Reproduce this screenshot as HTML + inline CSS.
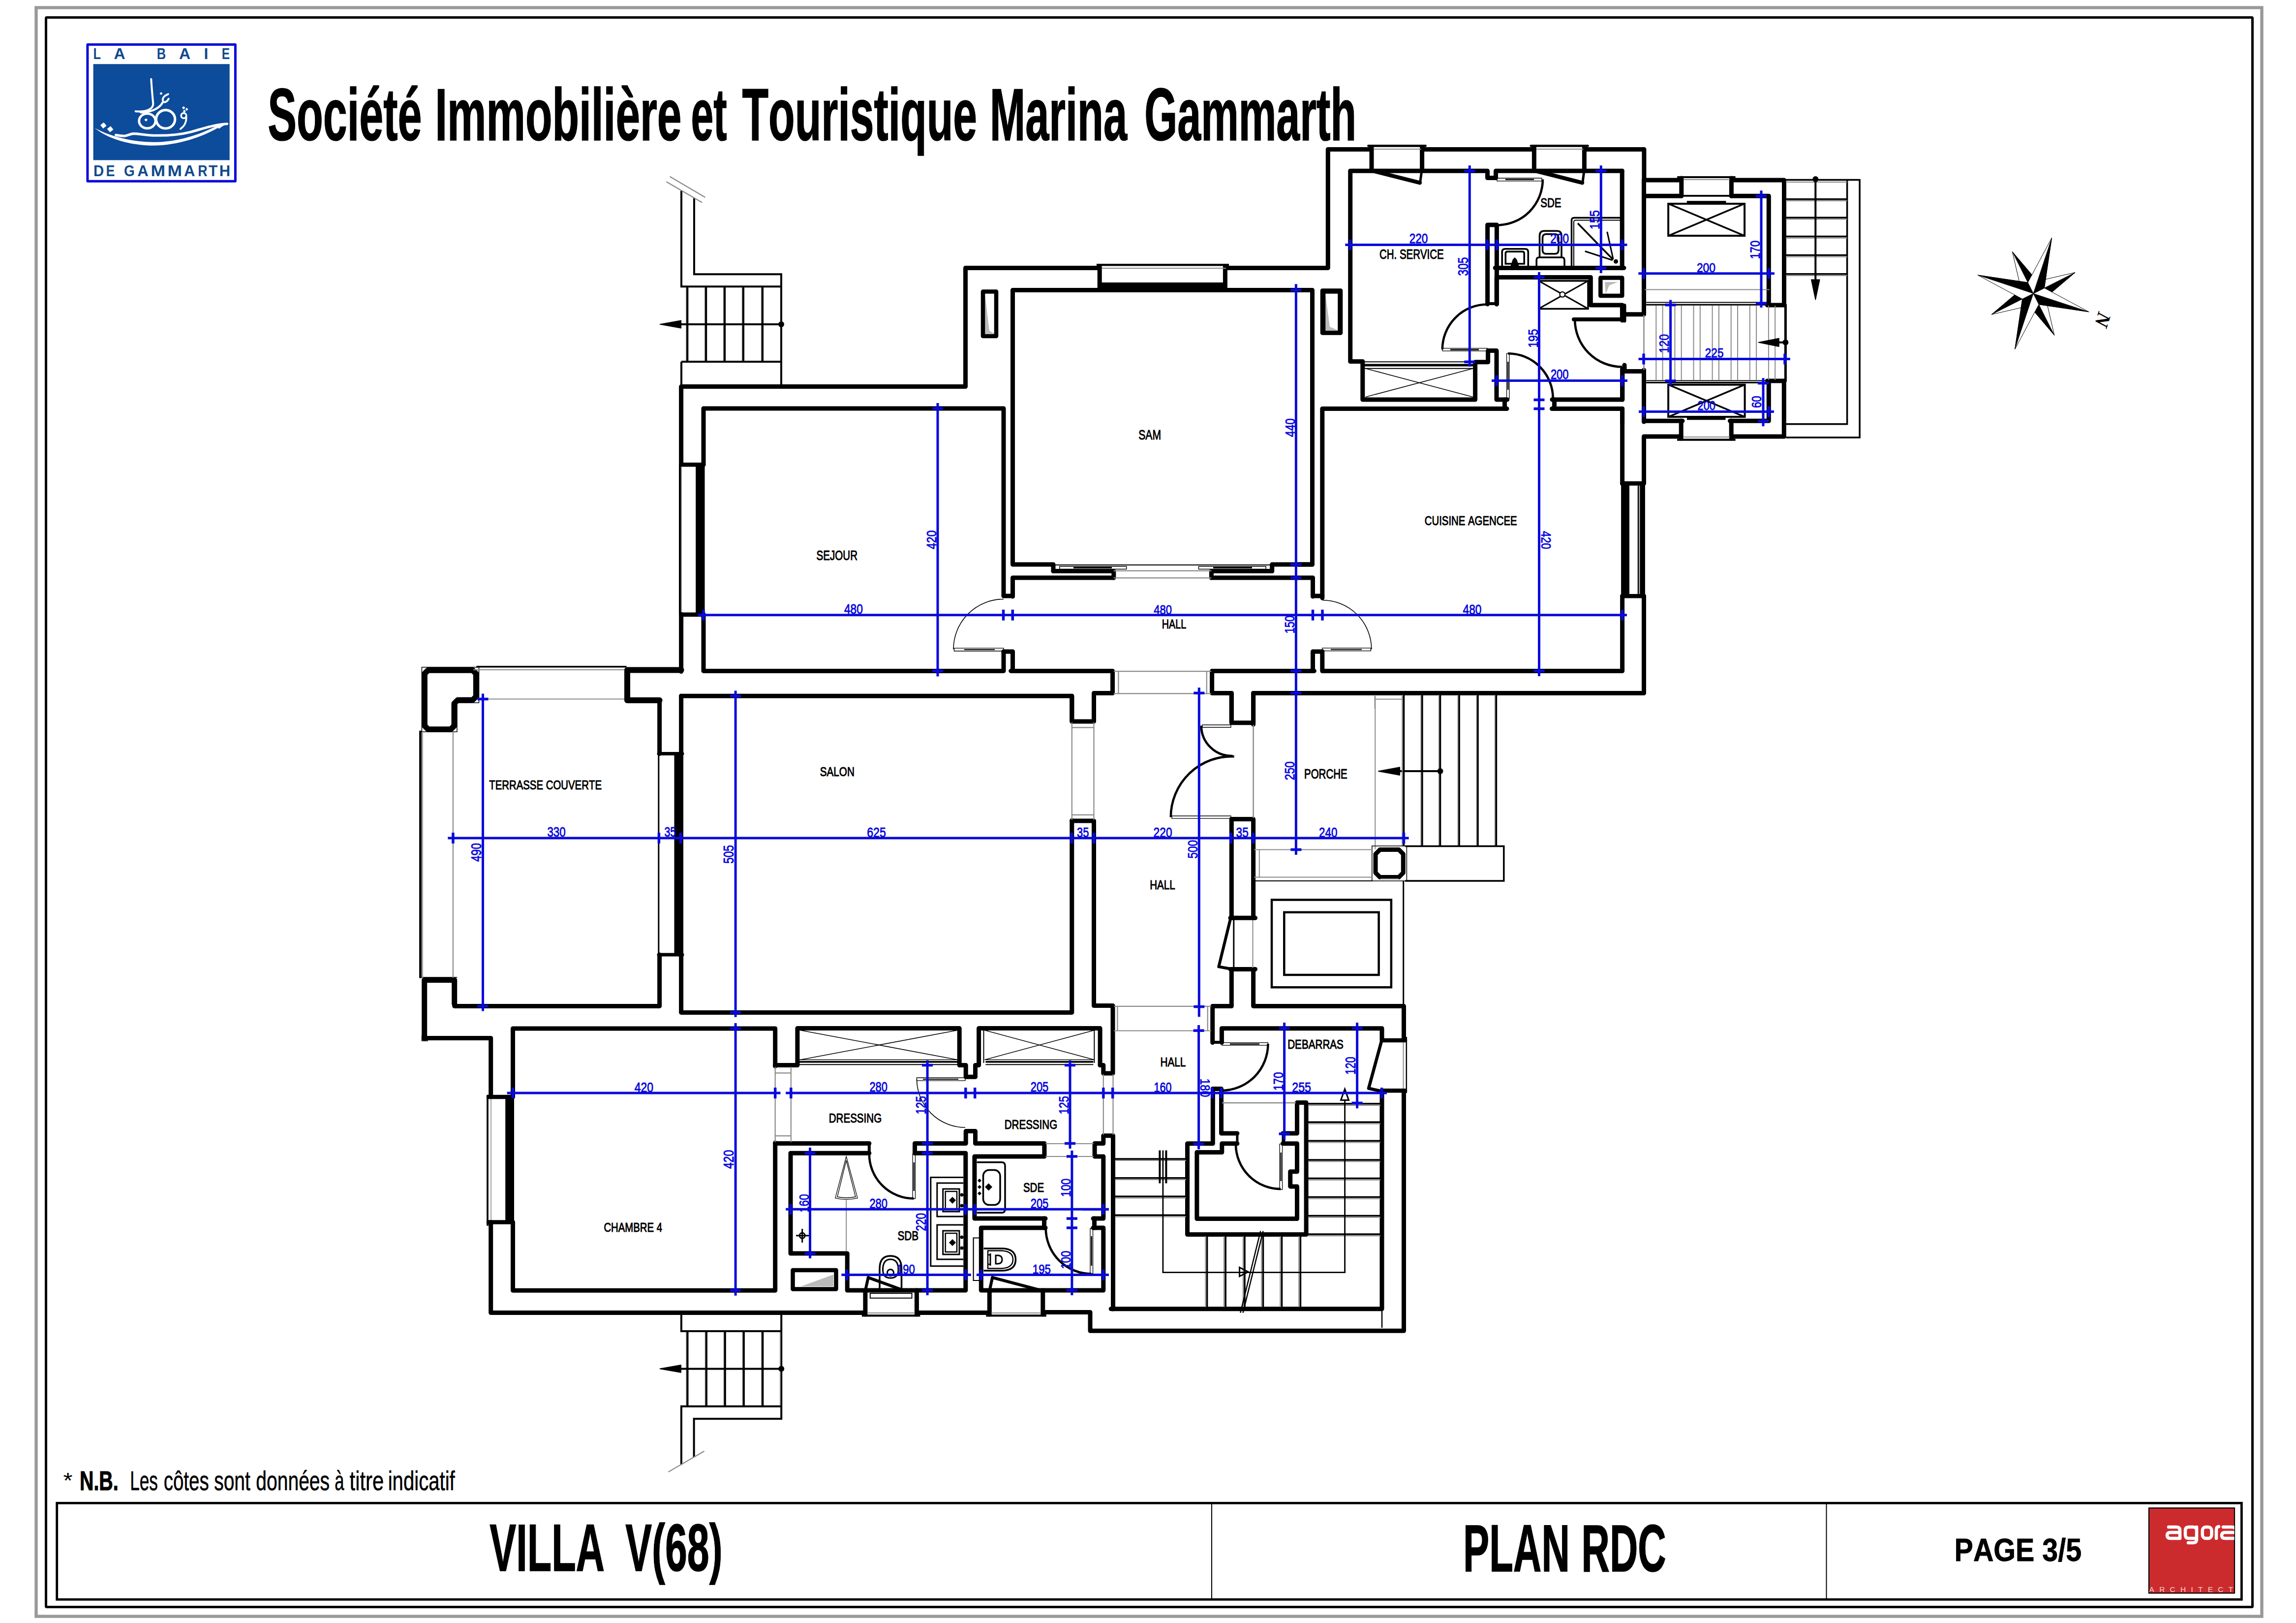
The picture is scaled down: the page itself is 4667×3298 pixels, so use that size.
<!DOCTYPE html>
<html><head><meta charset="utf-8"><title>Plan RDC - Villa V(68)</title>
<style>
html,body{margin:0;padding:0;background:#fff;}
body{width:4667px;height:3298px;overflow:hidden;font-family:"Liberation Sans",sans-serif;}
svg{display:block;font-family:"Liberation Sans",sans-serif;font-kerning:none;}
.w{fill:none;stroke:#000;stroke-linejoin:round;stroke-linecap:round;}
.t{fill:none;stroke:#000;stroke-linejoin:miter;stroke-linecap:butt;}
.g{fill:none;stroke:#8a8a8a;stroke-linejoin:miter;stroke-linecap:butt;}
.b{fill:none;stroke:#0909dc;stroke-linecap:butt;}
</style></head><body>
<svg xmlns="http://www.w3.org/2000/svg" width="4667" height="3298" viewBox="0 0 4667 3298">
<rect x="0" y="0" width="4667" height="3298" fill="#fff"/>
<rect x="73.5" y="15.5" width="4524" height="3269" fill="none" stroke="#999" stroke-width="6.4"/>
<rect x="93.5" y="35.5" width="4485" height="3230" fill="none" stroke="#000" stroke-width="5" rx="1.5"/>
<rect x="115.7" y="3054.3" width="4440.7" height="195.9" fill="none" stroke="#000" stroke-width="4.8"/>
<line x1="2463" y1="3054" x2="2463" y2="3250" stroke="#000" stroke-width="2"/>
<line x1="3712.5" y1="3054" x2="3712.5" y2="3250" stroke="#000" stroke-width="2"/>
<text x="544.3" y="285.4" font-size="150" font-weight="bold" textLength="313.3" lengthAdjust="spacingAndGlyphs" stroke="#000" stroke-width="1.6">Société</text>
<text x="884.3" y="285.4" font-size="150" font-weight="bold" textLength="501.2" lengthAdjust="spacingAndGlyphs" stroke="#000" stroke-width="1.6">Immobilière</text>
<text x="1404.4" y="285.4" font-size="150" font-weight="bold" textLength="73.2" lengthAdjust="spacingAndGlyphs" stroke="#000" stroke-width="1.6">et</text>
<text x="1508.5" y="285.4" font-size="150" font-weight="bold" textLength="477.6" lengthAdjust="spacingAndGlyphs" stroke="#000" stroke-width="1.6">Touristique</text>
<text x="2012.1" y="285.4" font-size="150" font-weight="bold" textLength="279" lengthAdjust="spacingAndGlyphs" stroke="#000" stroke-width="1.6">Marina</text>
<text x="2326.3" y="285.4" font-size="150" font-weight="bold" textLength="430.8" lengthAdjust="spacingAndGlyphs" stroke="#000" stroke-width="1.6">Gammarth</text>
<text x="995.2" y="3191.6" font-size="135.8" font-weight="bold" textLength="233.9" lengthAdjust="spacingAndGlyphs" stroke="#000" stroke-width="1.4">VILLA</text>
<text x="1271.2" y="3191.6" font-size="135.8" font-weight="bold" textLength="197.5" lengthAdjust="spacingAndGlyphs" stroke="#000" stroke-width="1.4">V(68)</text>
<text x="2974" y="3193.4" font-size="135.2" font-weight="bold" textLength="217" lengthAdjust="spacingAndGlyphs" stroke="#000" stroke-width="1.4">PLAN</text>
<text x="3214.5" y="3193.4" font-size="135.2" font-weight="bold" textLength="172.2" lengthAdjust="spacingAndGlyphs" stroke="#000" stroke-width="1.4">RDC</text>
<text x="3972.6" y="3171.8" font-size="64.2" font-weight="bold" textLength="258.5" lengthAdjust="spacingAndGlyphs" stroke="#000" stroke-width="0.8">PAGE 3/5</text>
<text x="128.5" y="3024" font-size="44" textLength="19" lengthAdjust="spacingAndGlyphs">*</text>
<text x="162" y="3027.7" font-size="56" font-weight="bold" textLength="78.6" lengthAdjust="spacingAndGlyphs" stroke="#000" stroke-width="1.2">N.B.</text>
<text x="264.2" y="3027.7" font-size="56" font-weight="normal" textLength="56.8" lengthAdjust="spacingAndGlyphs" stroke="#000" stroke-width="0.6">Les</text>
<text x="332.7" y="3027.7" font-size="56" font-weight="normal" textLength="92" lengthAdjust="spacingAndGlyphs" stroke="#000" stroke-width="0.6">côtes</text>
<text x="435.2" y="3027.7" font-size="56" font-weight="normal" textLength="73.7" lengthAdjust="spacingAndGlyphs" stroke="#000" stroke-width="0.6">sont</text>
<text x="520.3" y="3027.7" font-size="56" font-weight="normal" textLength="149.8" lengthAdjust="spacingAndGlyphs" stroke="#000" stroke-width="0.6">données</text>
<text x="680.3" y="3027.7" font-size="56" font-weight="normal" textLength="19.3" lengthAdjust="spacingAndGlyphs" stroke="#000" stroke-width="0.6">à</text>
<text x="710.5" y="3027.7" font-size="56" font-weight="normal" textLength="69.8" lengthAdjust="spacingAndGlyphs" stroke="#000" stroke-width="0.6">titre</text>
<text x="788.7" y="3027.7" font-size="56" font-weight="normal" textLength="136" lengthAdjust="spacingAndGlyphs" stroke="#000" stroke-width="0.6">indicatif</text>
<rect x="177.9" y="90.6" width="300.5" height="277.7" fill="#fff" stroke="#0707dc" stroke-width="5" rx="0.5"/>
<rect x="189.6" y="130.2" width="277.1" height="195.2" fill="#0d4b9b"/>
<text x="189.4" y="120" font-size="31.4" font-weight="bold" fill="#114a8c" textLength="15.5" lengthAdjust="spacingAndGlyphs">L</text>
<text x="231.5" y="120" font-size="31.4" font-weight="bold" fill="#114a8c" textLength="23.1" lengthAdjust="spacingAndGlyphs">A</text>
<text x="318.8" y="120" font-size="31.4" font-weight="bold" fill="#114a8c" textLength="18.4" lengthAdjust="spacingAndGlyphs">B</text>
<text x="364.1" y="120" font-size="31.4" font-weight="bold" fill="#114a8c" textLength="23.2" lengthAdjust="spacingAndGlyphs">A</text>
<text x="414.4" y="120" font-size="31.4" font-weight="bold" fill="#114a8c" textLength="8.8" lengthAdjust="spacingAndGlyphs">I</text>
<text x="450.8" y="120" font-size="31.4" font-weight="bold" fill="#114a8c" textLength="16.4" lengthAdjust="spacingAndGlyphs">E</text>
<text x="190.1" y="358.1" font-size="31.4" font-weight="bold" fill="#114a8c" textLength="21.2" lengthAdjust="spacingAndGlyphs">D</text>
<text x="215.4" y="358.1" font-size="31.4" font-weight="bold" fill="#114a8c" textLength="17.9" lengthAdjust="spacingAndGlyphs">E</text>
<text x="252.1" y="358.1" font-size="31.4" font-weight="bold" fill="#114a8c" textLength="21.8" lengthAdjust="spacingAndGlyphs">G</text>
<text x="279.3" y="358.1" font-size="31.4" font-weight="bold" fill="#114a8c" textLength="22.5" lengthAdjust="spacingAndGlyphs">A</text>
<text x="306.4" y="358.1" font-size="31.4" font-weight="bold" fill="#114a8c" textLength="29.5" lengthAdjust="spacingAndGlyphs">M</text>
<text x="340.4" y="358.1" font-size="31.4" font-weight="bold" fill="#114a8c" textLength="29.5" lengthAdjust="spacingAndGlyphs">M</text>
<text x="374" y="358.1" font-size="31.4" font-weight="bold" fill="#114a8c" textLength="22.5" lengthAdjust="spacingAndGlyphs">A</text>
<text x="402.3" y="358.1" font-size="31.4" font-weight="bold" fill="#114a8c" textLength="19.3" lengthAdjust="spacingAndGlyphs">R</text>
<text x="424" y="358.1" font-size="31.4" font-weight="bold" fill="#114a8c" textLength="18.3" lengthAdjust="spacingAndGlyphs">T</text>
<text x="445.8" y="358.1" font-size="31.4" font-weight="bold" fill="#114a8c" textLength="22.4" lengthAdjust="spacingAndGlyphs">H</text>
<g transform="translate(185 140) scale(0.12631)" fill="none" stroke="#fff" stroke-linecap="round" stroke-linejoin="round">
<path d="M60 950 C 300 1085 650 1172 1000 1178 C 1400 1178 1750 1055 2000 928 C 2080 893 2140 884 2198 880 C 2150 903 2100 930 2062 962 L 2040 950 C 1800 1090 1400 1230 1000 1234 C 600 1230 250 1112 60 950 Z" fill="#fff" stroke="none"/>
<path d="M2190 884 C 2000 892 1800 962 1600 1016 C 1400 1066 1200 1076 1000 1070 C 850 1062 750 1040 680 1042 C 620 1046 600 1074 540 1078 C 480 1080 440 1070 400 1063" stroke-width="40"/>
<path d="M968 165 C 975 300 990 450 1000 560 C 1002 640 900 700 718 682" stroke-width="32"/>
<path d="M1242 405 C 1180 430 1138 472 1160 520 C 1180 558 1232 520 1250 480" stroke-width="30"/>
<path d="M1150 545 C 1100 640 960 700 800 700" stroke-width="34"/>
<ellipse cx="1200" cy="810" rx="152" ry="148" stroke-width="40"/>
<ellipse cx="905" cy="838" rx="132" ry="118" stroke-width="38"/>
<circle cx="1492" cy="752" r="42" stroke-width="28"/>
<path d="M1532 772 C 1542 850 1500 925 1440 965" stroke-width="30"/>
<g fill="#fff" stroke="none">
<polygon points="150,905 205,860 250,915 195,960"/>
<polygon points="258,965 315,920 360,975 305,1020"/>
<polygon points="885,795 912,820 885,846 858,820"/>
<polygon points="1128,372 1152,396 1128,420 1104,396"/>
<polygon points="1490,600 1516,626 1490,652 1464,626"/>
<polygon points="1540,625 1564,650 1540,675 1516,650"/>
<polygon points="1502,655 1526,680 1502,705 1478,680"/>
</g>
</g>
<rect x="4368" y="3064.3" width="174" height="173" fill="#cc2b2e" stroke="#000" stroke-width="2.2"/>
<clipPath id="agc"><rect x="4369" y="3065" width="172.5" height="171.5"/></clipPath>
<g clip-path="url(#agc)">
<g fill="none" stroke="#fff" stroke-width="6.5" stroke-linecap="round" stroke-linejoin="round">
<path d="M4408 3103 H4424 Q4431 3103 4431 3110 V3126 H4412 Q4405 3126 4405 3120 Q4405 3114 4412 3114 H4431"/>
<path d="M4465 3110 Q4465 3103 4458 3103 H4449 Q4442 3103 4442 3110 V3119 Q4442 3126 4449 3126 H4465 V3103 M4465 3126 V3128 Q4465 3135 4458 3135 H4448"/>
<rect x="4476.8" y="3103" width="18.7" height="23" rx="7"/>
<path d="M4505 3126 V3109 Q4505 3102.5 4510 3102"/>
<path d="M4519 3103 H4536 Q4545 3103 4545 3110 V3126 H4523 Q4516 3126 4516 3120 Q4516 3114 4523 3114 H4545"/>
</g>
<text x="4368.6" y="3235" font-size="15.3" fill="#f8d2cf" textLength="191" lengthAdjust="spacing">ARCHITECTS</text>
</g>
<polygon points="4133.1,596.4 4161.9,621.2 4175.8,681.3 4135.9,634.3" fill="#fff" stroke="#000" stroke-width="1"/>
<polygon points="4133.1,596.4 4175.8,681.3 4135.9,634.3" fill="#000" stroke="#000" stroke-width="0.8"/>
<polygon points="4133.1,596.4 4108.3,625.2 4048.2,639.1 4095.2,599.2" fill="#fff" stroke="#000" stroke-width="1"/>
<polygon points="4133.1,596.4 4048.2,639.1 4095.2,599.2" fill="#000" stroke="#000" stroke-width="0.8"/>
<polygon points="4133.1,596.4 4104.3,571.6 4090.4,511.5 4130.3,558.5" fill="#fff" stroke="#000" stroke-width="1"/>
<polygon points="4133.1,596.4 4090.4,511.5 4130.3,558.5" fill="#000" stroke="#000" stroke-width="0.8"/>
<polygon points="4133.1,596.4 4157.9,567.6 4218,553.7 4171,593.6" fill="#fff" stroke="#000" stroke-width="1"/>
<polygon points="4133.1,596.4 4218,553.7 4171,593.6" fill="#000" stroke="#000" stroke-width="0.8"/>
<polygon points="4133.1,596.4 4155.4,585.2 4246.1,633.8 4144.3,618.7" fill="#fff" stroke="#000" stroke-width="1"/>
<polygon points="4133.1,596.4 4246.1,633.8 4144.3,618.7" fill="#000" stroke="#000" stroke-width="0.8"/>
<polygon points="4133.1,596.4 4144.3,618.7 4095.7,709.4 4110.8,607.6" fill="#fff" stroke="#000" stroke-width="1"/>
<polygon points="4133.1,596.4 4095.7,709.4 4110.8,607.6" fill="#000" stroke="#000" stroke-width="0.8"/>
<polygon points="4133.1,596.4 4110.8,607.6 4020.1,559 4121.9,574.1" fill="#fff" stroke="#000" stroke-width="1"/>
<polygon points="4133.1,596.4 4020.1,559 4121.9,574.1" fill="#000" stroke="#000" stroke-width="0.8"/>
<polygon points="4133.1,596.4 4121.9,574.1 4170.5,483.4 4155.4,585.2" fill="#fff" stroke="#000" stroke-width="1"/>
<polygon points="4133.1,596.4 4170.5,483.4 4155.4,585.2" fill="#000" stroke="#000" stroke-width="0.8"/>
<text transform="translate(4266 632) rotate(108)" font-family="Liberation Serif" font-style="italic" font-weight="bold" font-size="40" x="0" y="0">N</text>
<polyline class="w" stroke-width="9" points="1384.6,1364.5 1384.6,1248"/>
<polyline class="w" stroke-width="9" points="1384.6,944.3 1384.6,785.6 1962.5,785.6 1962.5,544.4 2233,544.4"/>
<polyline class="w" stroke-width="9" points="2492,544.4 2699.3,544.4 2699.3,303.4 2788,303.4"/>
<polyline class="w" stroke-width="9" points="2890.6,303.4 3118.4,303.4"/>
<polyline class="w" stroke-width="9" points="3220.4,303.4 3341.9,303.4 3341.9,366.1 3417.8,366.1"/>
<polyline class="w" stroke-width="9" points="3519.4,366.1 3626.5,366.1 3626.5,620 3592.3,620"/>
<polyline class="w" stroke-width="9" points="3592.3,774 3626.3,774 3626.3,887 3519.2,887"/>
<polyline class="w" stroke-width="9" points="3417.2,887 3341.5,887 3341.5,982"/>
<polyline class="w" stroke-width="9" points="3341.5,1211 3341.5,1408.5 2547.6,1408.5 2547.6,1468.8 2503.3,1468.8 2503.3,1408.5 2463.6,1408.5 2463.6,1363.4 2671.4,1363.4"/>
<polyline class="w" stroke-width="9" points="1430,944.3 1430,830 2040,830 2040,1210"/>
<polyline class="w" stroke-width="9" points="2040,1324 2040,1363.4 1430,1363.4 1430,1248"/>
<rect x="1414.2" y="944" width="18.3" height="304.5" fill="#000"/>
<polyline class="w" stroke-width="8.6" points="1384.6,944.3 1430,944.3"/>
<polyline class="w" stroke-width="8.6" points="1384.6,1248.9 1430,1248.9"/>
<polyline class="t" stroke-width="4" points="1382,944 1382,1248"/>
<polyline class="g" stroke-width="2" points="1385,948 1385,1244"/>
<polyline class="w" stroke-width="9" points="2141,1160.6 2141,1147 2058.5,1147 2058.5,589.5 2667.5,589.5 2667.5,1147 2585.7,1147 2585.7,1160.6"/>
<polyline class="w" stroke-width="9" points="2141,1160.6 2263.8,1160.6 2263.8,1174"/>
<polyline class="w" stroke-width="9" points="2462.4,1174 2462.4,1160.6 2585.7,1160.6"/>
<polyline class="w" stroke-width="9" points="2235.2,541 2235.2,589.5"/>
<polyline class="w" stroke-width="9" points="2490.4,541 2490.4,589.5"/>
<polyline class="t" stroke-width="4.4" points="2229,538.2 2498,538.2"/>
<polyline class="g" stroke-width="2" points="2240,545 2492,545"/>
<rect x="2235" y="574" width="255.5" height="19.5" fill="#000"/>
<polygon points="2002,597 2011,672 2021,678 2002,678" fill="#bbb"/>
<polygon class="w" stroke-width="8.5" points="1998,592.5 2025,592.5 2025,683 1998,683"/>
<polygon points="2694,597 2703,664 2719,671 2694,671" fill="#bbb"/>
<polygon class="w" stroke-width="8.5" points="2690,592.5 2723.5,592.5 2723.5,676 2690,676"/>
<polygon class="w" stroke-width="8.5" points="2688,590.5 2725,590.5 2725,676.5 2688,676.5"/>
<polyline class="w" stroke-width="9" points="2058.5,1212 2058.5,1174 2263.8,1174"/>
<polyline class="w" stroke-width="9" points="2462.4,1174 2668.5,1174 2668.5,1212"/>
<polyline class="w" stroke-width="9" points="2040,1211 2058.5,1211"/>
<polyline class="w" stroke-width="9" points="2040,1324 2058.5,1324 2058.5,1363.4"/>
<polyline class="w" stroke-width="9" points="2054.7,1363.4 2261.5,1363.4 2261.5,1408.5 2223.5,1408.5 2223.5,1466 2178.8,1466 2178.8,1414.3 1384.6,1414.3"/>
<polyline class="w" stroke-width="9" points="2668.5,1363.4 2668.5,1324 2687.8,1324"/>
<polyline class="w" stroke-width="9" points="2668.5,1211 2687.8,1211"/>
<polyline class="w" stroke-width="9" points="2640,1147 2667.5,1147"/>
<polyline class="w" stroke-width="9" points="2687.8,1215 2687.8,830.5 3063,830.5"/>
<polyline class="w" stroke-width="9" points="3154.5,830.5 3297.6,830.5 3297.6,983"/>
<polyline class="w" stroke-width="9" points="3297.6,1211 3297.6,1363.6 2687.8,1363.6 2687.8,1324"/>
<rect x="3295.1" y="982" width="16.9" height="229.5" fill="#000"/>
<polyline class="w" stroke-width="8.6" points="3297.6,982.4 3341.5,982.4"/>
<polyline class="w" stroke-width="8.6" points="3297.6,1211.2 3341.5,1211.2"/>
<polyline class="t" stroke-width="10.6" points="3338.6,982 3338.6,1211"/>
<polyline class="t" stroke-width="2.5" points="3330.6,986 3330.6,1207"/>
<polyline class="g" stroke-width="1.5" points="3328.6,986 3328.6,1207"/>
<polyline class="w" stroke-width="9" points="3297.2,347.3 3040.5,347.3 3040.5,361.5 3023.5,361.5 3023.5,347.3 2744.7,347.3 2744.7,734.5 2769.8,734.5 2769.8,812 2998.6,812 2998.6,735.8 3024.6,735.8 3024.6,712.6 3042,712.6 3042,812 3063.7,812"/>
<polyline class="w" stroke-width="9" points="3297.2,347.3 3297.2,544.8"/>
<polyline class="w" stroke-width="9" points="2788,299 2788,347"/>
<polyline class="w" stroke-width="9" points="2890.6,299 2890.6,347"/>
<polyline class="w" stroke-width="4.8" points="2781.5,296.3 2897.6,296.3"/>
<polyline class="g" stroke-width="2" points="2792,303 2888.6,303"/>
<polyline class="w" stroke-width="9" points="3118.4,299 3118.4,347"/>
<polyline class="w" stroke-width="9" points="3220.4,299 3220.4,347"/>
<polyline class="w" stroke-width="4.8" points="3111.9,296.3 3227.4,296.3"/>
<polyline class="g" stroke-width="2" points="3122.4,303 3218.4,303"/>
<polyline class="w" stroke-width="8" points="2792,347.5 2886,371.3"/>
<polyline class="w" stroke-width="5" points="2886.5,371.5 2889.5,350"/>
<polyline class="w" stroke-width="8" points="3122.2,347.5 3216.2,371.3"/>
<polyline class="w" stroke-width="5" points="3216.7,371.5 3219.7,350"/>
<polyline class="w" stroke-width="9" points="3023.6,618 3023.6,457 3042.4,457 3042.4,618"/>
<polyline class="w" stroke-width="6" points="3023.6,617 3042.4,617"/>
<polyline class="w" stroke-width="9" points="3039.2,544.4 3301,544.4"/>
<polyline class="w" stroke-width="9" points="3042.2,618 3042.2,563.5 3233.3,563.5 3233.3,620 3297.4,620 3297.4,651"/>
<polygon points="3262,573 3289,573 3271,580 3264,597" fill="#bbb"/>
<polygon class="w" stroke-width="8.5" points="3253.3,564.5 3297.3,564.5 3297.3,601 3253.3,601"/>
<polyline class="w" stroke-width="9" points="3155,812 3297.6,812 3297.6,750"/>
<polyline class="w" stroke-width="7" points="3297.6,620.5 3302,620.5 3302,652"/>
<polyline class="w" stroke-width="9" points="3302,638.8 3341.5,638.8"/>
<polyline class="w" stroke-width="9" points="3302,742 3302,754.6 3341.5,754.6"/>
<polyline class="w" stroke-width="9" points="3297.8,752 3297.8,812"/>
<polyline class="w" stroke-width="9" points="3297.6,830.5 3297.6,860"/>
<polyline class="w" stroke-width="9" points="3341.5,366 3341.5,638"/>
<polyline class="w" stroke-width="9" points="3341.5,752 3341.5,857"/>
<polyline class="g" stroke-width="2.5" points="3341.5,640 3341.5,752"/>
<polyline class="w" stroke-width="9" points="3417.8,398.3 3341.5,398.3"/>
<polyline class="w" stroke-width="9" points="3519.4,398.3 3595.3,398.3 3595.3,620"/>
<polyline class="w" stroke-width="9" points="3595.3,774 3595.3,855.2 3516.5,855.2"/>
<polyline class="w" stroke-width="9" points="3419.9,855.2 3341.5,855.2"/>
<polyline class="w" stroke-width="9" points="3417.8,362 3417.8,398.3"/>
<polyline class="w" stroke-width="9" points="3519.4,362 3519.4,398.3"/>
<polyline class="t" stroke-width="4.2" points="3409.2,360 3527.6,360"/>
<polyline class="g" stroke-width="2" points="3422,365 3516,365"/>
<polyline class="t" stroke-width="3.9" points="3417.8,397.9 3519.4,397.9"/>
<polyline class="w" stroke-width="9" points="3417.2,855 3417.2,891"/>
<polyline class="w" stroke-width="9" points="3519.2,855 3519.2,891"/>
<polyline class="t" stroke-width="4.2" points="3409,893.6 3527.6,893.6"/>
<polyline class="g" stroke-width="2" points="3421,888 3516,888"/>
<polygon class="w" stroke-width="11.5" stroke-linejoin="miter" points="863.1,1368.9 870.1,1361.9 960.6,1361.9 967.6,1368.9 967.6,1415.5 960.6,1422.5 930.3,1422.5 923.3,1429.5 923.3,1474.9 916.3,1481.9 870.1,1481.9 863.1,1474.9"/>
<polygon class="t" stroke-width="1.5" points="857.4,1355.8 973.5,1355.8 973.5,1428 929,1428 929,1487 857.4,1487"/>
<polyline class="t" stroke-width="3.5" points="968.4,1354.8 1273.5,1354.8"/>
<polyline class="g" stroke-width="2.2" points="962,1361 1279,1361"/>
<polyline class="g" stroke-width="2.2" points="982,1420.5 1271,1420.5"/>
<polyline class="w" stroke-width="12" points="1384.6,1361.5 1275,1361.5 1275,1423 1340.6,1423"/>
<polyline class="w" stroke-width="9" points="1340.6,1423 1340.6,1531.5"/>
<rect x="1370.5" y="1529.5" width="18.5" height="409" fill="#000"/>
<polyline class="t" stroke-width="3" points="1338.8,1531 1338.8,1939"/>
<polyline class="w" stroke-width="7" points="1339,1531.5 1387,1531.5"/>
<polyline class="w" stroke-width="7" points="1339,1940 1387,1940"/>
<polyline class="w" stroke-width="9" points="1340.6,1940 1340.6,2044.4 923.7,2044.4 923.7,1991.5"/>
<polyline class="w" stroke-width="11" points="923.7,2040 923.7,1991.5 862.7,1991.5 862.7,2109.5"/>
<polyline class="t" stroke-width="1.5" points="857,1986 929.5,1986"/>
<polyline class="w" stroke-width="9" points="862.7,2109.5 997.7,2109.5 997.7,2229"/>
<polyline class="t" stroke-width="1.5" points="857.5,2104 857.5,2115 870,2115"/>
<polyline class="t" stroke-width="5" points="854.6,1484.7 854.6,1987.4"/>
<polyline class="g" stroke-width="2" points="858.8,1487 858.8,1987"/>
<polyline class="g" stroke-width="2.2" points="920.9,1487 920.9,1987"/>
<polyline class="w" stroke-width="9" points="1384.6,1414.3 1384.6,1531.5"/>
<polyline class="w" stroke-width="9" points="1384.6,1940 1384.6,2057.4 2178.8,2057.4 2178.8,1667.3"/>
<polyline class="w" stroke-width="9" points="2178.8,1466 2178.8,1414.3"/>
<polyline class="w" stroke-width="9" points="2178.8,1668 2223.5,1668 2223.5,2043.5 2262,2043.5 2262,2181 2242.8,2181 2242.8,2164.5 2236.1,2164.5"/>
<polyline class="w" stroke-width="9" points="2503.3,1408.5 2503.3,1467.4"/>
<polyline class="w" stroke-width="9" points="2547.6,1408.5 2547.6,1472"/>
<polyline class="w" stroke-width="9" points="2503.3,1664.5 2503.3,1865"/>
<polyline class="w" stroke-width="9" points="2503.3,1971 2503.3,2044.5 2464.7,2044.5 2464.7,2118.6"/>
<polyline class="w" stroke-width="9" points="2503.3,1664.5 2547.6,1664.5 2547.6,1865"/>
<polyline class="w" stroke-width="9" points="2547.6,1971 2547.6,2044.4 2853.5,2044.4 2853.5,2113"/>
<polyline class="w" stroke-width="9" points="2853.5,2217 2853.5,2704.3 2216,2704.3 2216,2666.5 2123.7,2666.5"/>
<polyline class="g" stroke-width="2.5" points="2547.6,1473 2547.6,1662"/>
<polyline class="w" stroke-width="9" points="1042.5,2229 1042.5,2089.9 1575.7,2089.9 1575.7,2166.4"/>
<polyline class="w" stroke-width="9" points="1575.7,2322.3 1575.7,2622.2 1042.5,2622.2 1042.5,2483.5"/>
<rect x="1027.2" y="2229" width="17.8" height="254.5" fill="#000"/>
<polyline class="w" stroke-width="8.6" points="993,2229 1042.5,2229"/>
<polyline class="w" stroke-width="8.6" points="993,2483.5 1042.5,2483.5"/>
<polyline class="t" stroke-width="3.7" points="991,2224.7 991,2490.7"/>
<polyline class="g" stroke-width="1.6" points="998.1,2233 998.1,2479"/>
<polyline class="w" stroke-width="9" points="997.7,2483.5 997.7,2667.5 1755,2667.5"/>
<polyline class="w" stroke-width="9" points="1867.4,2667.5 2007.4,2667.5"/>
<polyline class="w" stroke-width="9" points="1575.7,2166.4 1575.7,2164.5 1620.9,2164.5 1620.9,2089.6 1950.2,2089.6 1950.2,2164.5 1963.2,2164.5 1963.2,2188.2 1982.5,2188.2 1982.5,2164.5 1989.6,2164.5 1989.6,2089.6 2236.1,2089.6 2236.1,2164.5"/>
<polyline class="w" stroke-width="9" points="1575.7,2323.5 1766.8,2323.5"/>
<polyline class="w" stroke-width="9" points="1766.8,2343.2 1607,2343.2 1607,2547.1 1722.2,2547.1 1722.2,2622 1962.8,2622 1962.8,2343.2 1859.5,2343.2"/>
<polyline class="w" stroke-width="6" points="1766.8,2323.5 1766.8,2343.2"/>
<polyline class="w" stroke-width="9" points="1859.5,2343.2 1859.5,2323.5 1963.2,2323.5 1963.2,2298.6 1982.5,2298.6 1982.5,2323.5 2122.9,2323.5 2122.9,2349.9 1980.9,2349.9 1980.9,2476.1 2125,2476.1"/>
<polyline class="w" stroke-width="9" points="2125,2495 1994.3,2495 1994.3,2622 2242.8,2622 2242.8,2495 2222,2495"/>
<polyline class="w" stroke-width="9" points="2222,2476.1 2242.8,2476.1 2242.8,2349.9 2225.1,2349.9 2225.1,2323.5 2242.8,2323.5 2242.8,2307.7 2262.5,2307.7 2262.5,2660"/>
<polygon points="1628,2614 1694,2590 1694,2614" fill="#bbb"/>
<polygon class="w" stroke-width="8.5" points="1611.5,2581 1699.5,2581 1699.5,2619.5 1611.5,2619.5"/>
<polyline class="w" stroke-width="9" points="1758.9,2622 1758.9,2671"/>
<polyline class="w" stroke-width="9" points="1863.4,2622 1863.4,2671"/>
<polyline class="t" stroke-width="4.2" points="1751.9,2673.3 1870.4,2673.3"/>
<polyline class="g" stroke-width="2" points="1762.9,2668 1859.4,2668"/>
<polyline class="w" stroke-width="9" points="2011.3,2622 2011.3,2671"/>
<polyline class="w" stroke-width="9" points="2119.8,2622 2119.8,2671"/>
<polyline class="t" stroke-width="4.2" points="2004.3,2673.3 2126.8,2673.3"/>
<polyline class="g" stroke-width="2" points="2015.3,2668 2115.8,2668"/>
<polyline class="w" stroke-width="9" points="2258.2,2659.8 2809,2659.8 2809,2216"/>
<polyline class="w" stroke-width="9" points="2809,2113.3 2809,2089.8 2483.4,2089.8 2483.4,2118.6"/>
<polyline class="w" stroke-width="6" points="2464.7,2118 2483.4,2118"/>
<polyline class="w" stroke-width="8.6" points="2809,2114 2856,2114"/>
<polyline class="w" stroke-width="8.6" points="2809,2216.3 2856,2216.3"/>
<polyline class="t" stroke-width="2.5" points="2858.8,2107 2858.8,2221"/>
<polyline class="g" stroke-width="2" points="2852.5,2118 2852.5,2212"/>
<polyline class="w" stroke-width="6.5" points="2808,2116 2782,2211.5 2808,2217.5"/>
<polyline class="w" stroke-width="9" points="2465.3,2212.5 2465.3,2323.8 2413.5,2323.8 2413.5,2508.5 2655.1,2508.5 2655.1,2240.6 2636.5,2240.6 2636.5,2303 2607.6,2303"/>
<polyline class="w" stroke-width="9" points="2465.3,2212.5 2482.5,2212.5 2482.5,2303.1 2514.9,2303.1"/>
<polyline class="w" stroke-width="9" points="2514.9,2323.8 2483.8,2323.8 2483.8,2341.5 2432.9,2341.5 2432.9,2476.5 2636.5,2476.5 2636.5,2410.9 2622.7,2410.9 2622.7,2380.8 2636.5,2380.8 2636.5,2323.8 2607.6,2323.8"/>
<polyline class="w" stroke-width="5" points="2514.9,2303.1 2514.9,2323.8"/>
<polyline class="w" stroke-width="9" points="3058.5,812 3058.5,830.5"/>
<polyline class="w" stroke-width="9" points="3159.5,812 3159.5,830.5"/>
<polyline class="w" stroke-width="9" points="2122.5,2476.1 2122.5,2495"/>
<polyline class="w" stroke-width="9" points="2224.5,2476.1 2224.5,2495"/>
<polyline class="w" stroke-width="7" points="2609,2303 2609,2323.8"/>
<polyline class="t" stroke-width="4" points="1385,388 1385,582.2 1588,582.2"/>
<polyline class="t" stroke-width="4" points="1411,402 1411,557.2 1588,557.2 1588,783"/>
<polyline class="g" stroke-width="2.2" points="1354.4,369.3 1427.1,411.5"/>
<polyline class="g" stroke-width="2.2" points="1361.5,358.8 1433.5,401"/>
<polyline class="t" stroke-width="4" points="1385,735 1588,735"/>
<polyline class="t" stroke-width="4" points="1385,735 1385,783"/>
<polyline class="g" stroke-width="2" points="1395.1,584 1395.1,733"/>
<polyline class="t" stroke-width="4" points="1397.3,582 1397.3,735"/>
<polyline class="g" stroke-width="2" points="1433,584 1433,733"/>
<polyline class="t" stroke-width="4" points="1435.2,582 1435.2,735"/>
<polyline class="g" stroke-width="2" points="1470.9,584 1470.9,733"/>
<polyline class="t" stroke-width="4" points="1473.1,582 1473.1,735"/>
<polyline class="g" stroke-width="2" points="1508.8,584 1508.8,733"/>
<polyline class="t" stroke-width="4" points="1511,582 1511,735"/>
<polyline class="g" stroke-width="2" points="1547.8,584 1547.8,733"/>
<polyline class="t" stroke-width="4" points="1550,582 1550,735"/>
<polygon points="1341.4,659 1384.3,651.4 1384.3,666.6" fill="#000"/>
<polyline class="w" stroke-width="1.6" points="1341.4,659 1384.3,651.4 1384.3,666.6 1341.4,659"/>
<polyline class="t" stroke-width="4" points="1384.3,659 1588,659"/>
<circle cx="1588" cy="659" r="6" fill="#000"/>
<polyline class="t" stroke-width="4" points="1384.9,2670 1384.9,2704.9 1588.2,2704.9"/>
<polyline class="t" stroke-width="4" points="1588.2,2670 1588.2,2883 1410.6,2883 1410.6,2961.3"/>
<polyline class="t" stroke-width="4" points="1588.2,2857.7 1384.9,2857.7 1384.9,2976.5"/>
<polyline class="g" stroke-width="2.2" points="1358.3,2991.1 1431.6,2948.7"/>
<polyline class="g" stroke-width="2" points="1395.3,2707 1395.3,2856"/>
<polyline class="t" stroke-width="4" points="1397.5,2705 1397.5,2857.7"/>
<polyline class="g" stroke-width="2" points="1433.7,2707 1433.7,2856"/>
<polyline class="t" stroke-width="4" points="1435.9,2705 1435.9,2857.7"/>
<polyline class="g" stroke-width="2" points="1471.6,2707 1471.6,2856"/>
<polyline class="t" stroke-width="4" points="1473.8,2705 1473.8,2857.7"/>
<polyline class="g" stroke-width="2" points="1509.7,2707 1509.7,2856"/>
<polyline class="t" stroke-width="4" points="1511.9,2705 1511.9,2857.7"/>
<polyline class="g" stroke-width="2" points="1548.1,2707 1548.1,2856"/>
<polyline class="t" stroke-width="4" points="1550.3,2705 1550.3,2857.7"/>
<polyline class="g" stroke-width="2" points="1586,2707 1586,2856"/>
<polygon points="1341.4,2781.4 1384.1,2773.8 1384.1,2789" fill="#000"/>
<polyline class="w" stroke-width="1.6" points="1341.4,2781.4 1384.1,2773.8 1384.1,2789 1341.4,2781.4"/>
<polyline class="t" stroke-width="4" points="1384.1,2781.4 1588.2,2781.4"/>
<circle cx="1588.2" cy="2781.4" r="6" fill="#000"/>
<polyline class="g" stroke-width="2" points="2851,1412 2851,1718"/>
<polyline class="t" stroke-width="3.5" points="2853.5,1410 2853.5,1719.6"/>
<polyline class="g" stroke-width="2" points="2888.4,1412 2888.4,1718"/>
<polyline class="t" stroke-width="3.5" points="2890.9,1410 2890.9,1719.6"/>
<polyline class="g" stroke-width="2" points="2925,1412 2925,1718"/>
<polyline class="t" stroke-width="3.5" points="2927.5,1410 2927.5,1719.6"/>
<polyline class="g" stroke-width="2" points="2963.6,1412 2963.6,1718"/>
<polyline class="t" stroke-width="3.5" points="2966.1,1410 2966.1,1719.6"/>
<polyline class="g" stroke-width="2" points="3001.5,1412 3001.5,1718"/>
<polyline class="t" stroke-width="3.5" points="3004,1410 3004,1719.6"/>
<polyline class="g" stroke-width="2" points="3038.9,1412 3038.9,1718"/>
<polyline class="t" stroke-width="3.5" points="3041.4,1410 3041.4,1719.6"/>
<polyline class="t" stroke-width="3.5" points="2856.3,1719.6 3056.8,1719.6 3056.8,1790 2856.3,1790"/>
<polygon points="2801.8,1567.1 2845.3,1559.1 2845.3,1575.1" fill="#000"/>
<polyline class="w" stroke-width="1.6" points="2801.8,1567.1 2845.3,1559.1 2845.3,1575.1 2801.8,1567.1"/>
<polyline class="t" stroke-width="4" points="2845.3,1567.1 2927.5,1567.1"/>
<circle cx="2927.5" cy="1567.1" r="6" fill="#000"/>
<polyline class="g" stroke-width="2" points="2795.3,1412 2795.3,1725.7"/>
<polyline class="g" stroke-width="2" points="2850.3,1412 2850.3,1719"/>
<polyline class="g" stroke-width="2" points="2795.3,1420.7 2850.6,1420.7"/>
<polygon class="t" stroke-width="1.5" points="2788.8,1719 2859.4,1719 2859.4,1790 2788.8,1790"/>
<polygon class="w" stroke-width="9" stroke-linejoin="miter" points="2796,1735.5 2805,1726.5 2843.3,1726.5 2852.3,1735.5 2852.3,1773.5 2843.3,1782.5 2805,1782.5 2796,1773.5"/>
<polyline class="g" stroke-width="2" points="2806,1786 2843,1786"/>
<polyline class="g" stroke-width="2" points="2549,1726.5 2790.4,1726.5"/>
<polyline class="g" stroke-width="2" points="2549,1782.6 2790.4,1782.6"/>
<polyline class="t" stroke-width="2" stroke="#555" points="2549,1790 2790.4,1790"/>
<polyline class="g" stroke-width="2" points="2559.8,1726.5 2559.8,1782.6"/>
<polyline class="t" stroke-width="3" points="2852.7,1790 2852.7,2044"/>
<polygon class="t" stroke-width="4.5" points="2585,1828.6 2827.9,1828.6 2827.9,2006.3 2585,2006.3"/>
<polygon class="t" stroke-width="4.5" points="2610.3,1853.8 2802.6,1853.8 2802.6,1981.1 2610.3,1981.1"/>
<polyline class="w" stroke-width="9" points="2501,1865.2 2551.5,1865.2"/>
<polyline class="w" stroke-width="9" points="2501,1969.5 2551.5,1969.5"/>
<polyline class="g" stroke-width="2" points="2546.5,1870 2546.5,1967"/>
<polyline class="t" stroke-width="3" points="2507.8,1866 2507.8,1970"/>
<polyline class="w" stroke-width="6" points="2500.9,1868 2477.3,1964.4 2506.6,1969.7"/>
<polyline class="t" stroke-width="6" points="3627.2,364 3627.2,620"/>
<polyline class="t" stroke-width="3.5" points="3625,365.6 3780.7,365.6"/>
<polyline class="t" stroke-width="3.5" points="3754.6,365.6 3754.6,861.7 3630.2,861.7"/>
<polyline class="t" stroke-width="3.5" points="3780.1,364 3780.1,889.1 3630.2,889.1"/>
<polyline class="g" stroke-width="2" points="3630,370 3754.6,370"/>
<polyline class="t" stroke-width="3.5" points="3630,404.7 3754.6,404.7"/>
<polyline class="g" stroke-width="2" points="3630,408 3754.6,408"/>
<polyline class="t" stroke-width="3.5" points="3630,442.3 3754.6,442.3"/>
<polyline class="g" stroke-width="2" points="3630,445.6 3754.6,445.6"/>
<polyline class="t" stroke-width="3.5" points="3630,480.5 3754.6,480.5"/>
<polyline class="g" stroke-width="2" points="3630,483.8 3754.6,483.8"/>
<polyline class="t" stroke-width="3.5" points="3630,518.5 3754.6,518.5"/>
<polyline class="g" stroke-width="2" points="3630,521.8 3754.6,521.8"/>
<polyline class="t" stroke-width="3.5" points="3630,556.7 3754.6,556.7"/>
<polyline class="g" stroke-width="2" points="3630,560 3754.6,560"/>
<polygon points="3690.3,608.8 3681.8,568.3 3698.8,568.3" fill="#000"/>
<polyline class="w" stroke-width="1.6" points="3690.3,608.8 3681.8,568.3 3698.8,568.3 3690.3,608.8"/>
<polyline class="t" stroke-width="4" points="3690.3,568.3 3690.3,364"/>
<circle cx="3690.3" cy="364" r="6" fill="#000"/>
<polyline class="t" stroke-width="2" points="3346.2,614.4 3591,614.4"/>
<polyline class="t" stroke-width="3" points="3346.2,619.3 3591,619.3"/>
<polyline class="t" stroke-width="2" points="3346.2,773.4 3591,773.4"/>
<polyline class="t" stroke-width="3" points="3346.2,777.6 3591,777.6"/>
<polyline class="g" stroke-width="2" points="3366.3,621 3366.3,772"/>
<polyline class="g" stroke-width="2" points="3379.6,621 3379.6,772"/>
<polyline class="g" stroke-width="2" points="3404.4,621 3404.4,772"/>
<polyline class="g" stroke-width="2" points="3417.7,621 3417.7,772"/>
<polyline class="g" stroke-width="2" points="3442.5,621 3442.5,772"/>
<polyline class="g" stroke-width="2" points="3455.8,621 3455.8,772"/>
<polyline class="g" stroke-width="2" points="3480.6,621 3480.6,772"/>
<polyline class="g" stroke-width="2" points="3493.9,621 3493.9,772"/>
<polyline class="g" stroke-width="2" points="3518.7,621 3518.7,772"/>
<polyline class="g" stroke-width="2" points="3532,621 3532,772"/>
<polyline class="g" stroke-width="2" points="3556.8,621 3556.8,772"/>
<polyline class="g" stroke-width="2" points="3570.1,621 3570.1,772"/>
<polyline class="g" stroke-width="2" points="3594.9,621 3594.9,772"/>
<polyline class="g" stroke-width="2" points="3608.2,621 3608.2,772"/>
<polyline class="t" stroke-width="5" points="3629.4,617.9 3629.4,776"/>
<polygon points="3574.3,695.8 3616,687.5 3616,704.1" fill="#000"/>
<polyline class="w" stroke-width="1.6" points="3574.3,695.8 3616,687.5 3616,704.1 3574.3,695.8"/>
<polyline class="t" stroke-width="4" points="3616,695.8 3629.4,695.8"/>
<circle cx="3629.4" cy="695.8" r="6" fill="#000"/>
<polyline class="g" stroke-width="2" points="3343,588.6 3596.8,588.6"/>
<polygon class="t" stroke-width="4" points="3391.1,413.9 3546.1,413.9 3546.1,479.1 3391.1,479.1"/>
<polyline class="t" stroke-width="3.5" points="3391.1,413.9 3546.1,479.1"/>
<polyline class="t" stroke-width="3.5" points="3391.1,479.1 3546.1,413.9"/>
<polyline class="t" stroke-width="5.5" points="3428.8,411 3508.4,411"/>
<polygon class="t" stroke-width="4" points="3391.1,781.7 3546.6,781.7 3546.6,847.1 3391.1,847.1"/>
<polyline class="t" stroke-width="3.5" points="3391.1,781.7 3546.6,847.1"/>
<polyline class="t" stroke-width="3.5" points="3391.1,847.1 3546.6,781.7"/>
<polyline class="t" stroke-width="6.5" points="3429,850 3507.4,850"/>
<path class="t" stroke-width="1.6" d="M2040 1217.5 A102 102 0 0 0 1938 1319.5"/>
<polygon class="t" stroke-width="1.3" points="1939.5,1317.2 2040,1317.2 2040,1323 1939.5,1323"/>
<polyline class="t" stroke-width="2" points="1960,1320 2022,1320"/>
<path class="t" stroke-width="1.6" d="M2687.8 1219.5 A100 100 0 0 1 2787.8 1319.5"/>
<polygon class="t" stroke-width="1.3" points="2687.8,1316.8 2786.4,1316.8 2786.4,1322.6 2687.8,1322.6"/>
<polyline class="t" stroke-width="2" points="2705,1319.7 2768,1319.7"/>
<path class="t" stroke-width="4.6" d="M3135.9 364.5 A93 93 0 0 1 3042.9 457.5"/>
<polygon class="t" stroke-width="1.3" points="3042.9,362 3134,362 3134,367.8 3042.9,367.8"/>
<polyline class="t" stroke-width="2.5" points="3060,364.8 3118,364.8"/>
<path class="t" stroke-width="4.6" d="M3023.3 618.5 A91.5 91.5 0 0 0 2931.8 710"/>
<polygon class="t" stroke-width="1.3" points="2932,707.6 3023.3,707.6 3023.3,713.2 2932,713.2"/>
<polyline class="t" stroke-width="2.5" points="2948,710.4 3006,710.4"/>
<path class="t" stroke-width="4.6" d="M3065.2 718.3 A91.5 91.5 0 0 1 3156.7 809.8"/>
<polygon class="t" stroke-width="1.3" points="3062.5,718.3 3068,718.3 3068,809.8 3062.5,809.8"/>
<polyline class="t" stroke-width="2.5" points="3065.2,735 3065.2,792"/>
<path class="t" stroke-width="4.6" d="M3201.2 649.5 A96 96 0 0 0 3297.2 745.5"/>
<polyline class="w" stroke-width="8" points="3199,649 3297,649"/>
<path class="t" stroke-width="4.6" d="M2441.8 1474.4 A61.5 61.5 0 0 0 2505.4 1535.9"/>
<path class="t" stroke-width="4.6" d="M2379.8 1660.6 A123.5 123.5 0 0 1 2508.7 1537.2"/>
<polygon class="t" stroke-width="1.3" points="2443.9,1473 2502,1473 2502,1478 2443.9,1478"/>
<polygon class="t" stroke-width="1.3" points="2382,1658 2502,1658 2502,1663.2 2382,1663.2"/>
<path class="t" stroke-width="1.6" d="M1863.5 2192.5 A98.5 98.5 0 0 0 1962 2291"/>
<polygon class="t" stroke-width="1.3" points="1863.4,2190 1962,2190 1962,2195.8 1863.4,2195.8"/>
<polyline class="t" stroke-width="2" points="1876,2193 1948,2193"/>
<path class="t" stroke-width="4.6" d="M1766.8 2344.8 A90.7 90.7 0 0 0 1857.5 2435.5"/>
<polygon class="t" stroke-width="1.3" points="1855,2344.8 1860.5,2344.8 1860.5,2435.5 1855,2435.5"/>
<polyline class="t" stroke-width="2.5" points="1857.8,2362 1857.8,2420"/>
<path class="t" stroke-width="4.6" d="M2125.7 2495.8 A92.7 92.7 0 0 0 2218.4 2588.5"/>
<polygon class="t" stroke-width="1.3" points="2216,2495.8 2221.5,2495.8 2221.5,2588 2216,2588"/>
<polyline class="t" stroke-width="2.5" points="2218.7,2512 2218.7,2572"/>
<path class="t" stroke-width="4.6" d="M2577.5 2121.1 A95 95 0 0 1 2482.5 2216.1"/>
<polygon class="t" stroke-width="1.3" points="2484,2118.6 2577.4,2118.6 2577.4,2124.2 2484,2124.2"/>
<polyline class="t" stroke-width="2.5" points="2500,2121.4 2560,2121.4"/>
<path class="t" stroke-width="4.6" d="M2511.9 2324.7 A91.4 91.4 0 0 0 2603.3 2416.1"/>
<polygon class="t" stroke-width="1.3" points="2601,2324.7 2606.6,2324.7 2606.6,2417.4 2601,2417.4"/>
<polyline class="t" stroke-width="2.5" points="2603.8,2342 2603.8,2400"/>
<polyline class="t" stroke-width="2" points="2774.1,735.2 2994.2,735.2"/>
<polyline class="t" stroke-width="5" points="2774.1,742 2994.2,742"/>
<polyline class="t" stroke-width="2" points="2774.1,748.8 2994.2,748.8"/>
<polyline class="t" stroke-width="1.6" points="2775.6,748.8 2994.2,806.7"/>
<polyline class="t" stroke-width="1.6" points="2775.6,806.7 2994.2,748.8"/>
<polyline class="t" stroke-width="1.6" points="1626.8,2093.5 1946.2,2153.5"/>
<polyline class="t" stroke-width="1.6" points="1626.8,2153.5 1946.2,2093.5"/>
<polyline class="t" stroke-width="1.6" points="1624.8,2153.5 1946.2,2153.5"/>
<polyline class="t" stroke-width="3.5" points="1624.8,2157.8 1946.2,2157.8"/>
<polyline class="t" stroke-width="2" points="1624.8,2163.3 1946.2,2163.3"/>
<polyline class="t" stroke-width="1.6" points="2001.4,2093.5 2224.3,2153.5"/>
<polyline class="t" stroke-width="1.6" points="2001.4,2153.5 2224.3,2093.5"/>
<polyline class="t" stroke-width="2" points="1999.5,2092 1999.5,2160"/>
<polyline class="t" stroke-width="2" points="2224.3,2092 2224.3,2160"/>
<polyline class="t" stroke-width="1.6" points="2003.4,2153.5 2222.3,2153.5"/>
<polyline class="t" stroke-width="3.5" points="2003.4,2157.8 2222.3,2157.8"/>
<polyline class="t" stroke-width="2" points="2003.4,2163.3 2222.3,2163.3"/>
<polyline class="t" stroke-width="2" points="2142.5,1148 2585.7,1148"/>
<polygon class="t" stroke-width="1.5" points="2153.8,1151 2289.7,1151 2289.7,1156.4 2153.8,1156.4"/>
<polygon class="t" stroke-width="1.5" points="2436.4,1151 2573.2,1151 2573.2,1156.4 2436.4,1156.4"/>
<polyline class="t" stroke-width="3" points="2182,1153.6 2260,1153.6"/>
<polyline class="t" stroke-width="3" points="2466,1153.6 2545,1153.6"/>
<polyline class="g" stroke-width="2.2" points="2263.8,1159.8 2462.4,1159.8"/>
<polyline class="g" stroke-width="2.2" points="2263.8,1174.4 2462.4,1174.4"/>
<polyline class="g" stroke-width="2.2" points="2264,1364.2 2462,1364.2"/>
<polyline class="g" stroke-width="2.2" points="2264,1409.4 2462,1409.4"/>
<polyline class="g" stroke-width="2.2" points="2273.4,1364.2 2273.4,1409.4"/>
<polyline class="g" stroke-width="2.2" points="2452.8,1364.2 2452.8,1409.4"/>
<polyline class="g" stroke-width="2.2" points="2178.8,1468 2178.8,1666"/>
<polyline class="g" stroke-width="2.2" points="2223.5,1468 2223.5,1666"/>
<polyline class="g" stroke-width="2.2" points="2178.8,1478.4 2223.5,1478.4"/>
<polyline class="g" stroke-width="2.2" points="2178.8,1655.9 2223.5,1655.9"/>
<polyline class="g" stroke-width="2.2" points="2264.5,2044.8 2462,2044.8"/>
<polyline class="g" stroke-width="2.2" points="2264.5,2094.5 2462,2094.5"/>
<polyline class="g" stroke-width="2.2" points="2271.4,2044.8 2271.4,2094.5"/>
<polyline class="g" stroke-width="2.2" points="2454.7,2044.8 2454.7,2094.5"/>
<polyline class="g" stroke-width="2.2" points="1575.7,2168 1575.7,2321"/>
<polyline class="g" stroke-width="2.2" points="1607.8,2168 1607.8,2321"/>
<polyline class="g" stroke-width="2.2" points="1575.7,2180.4 1607.8,2180.4"/>
<polyline class="g" stroke-width="2.2" points="1575.7,2308.2 1607.8,2308.2"/>
<polyline class="g" stroke-width="2.2" points="2242.8,2183 2242.8,2306"/>
<polyline class="g" stroke-width="2.2" points="2262.5,2183 2262.5,2306"/>
<polyline class="g" stroke-width="2.2" points="2125,2324 2223,2324"/>
<polyline class="g" stroke-width="2.2" points="2125,2350 2223,2350"/>
<polygon class="t" stroke-width="3.5" points="3127.7,570.7 3228,570.7 3228,627.4 3127.7,627.4"/>
<polyline class="t" stroke-width="3" points="3127.7,570.7 3228,627.4"/>
<polyline class="t" stroke-width="3" points="3127.7,627.4 3228,570.7"/>
<circle cx="3175.8" cy="598.4" r="5.3" fill="#fff" stroke="#000" stroke-width="2.2"/>
<path class="t" stroke-width="3.5" d="M3297 442.5 H3200 Q3194.5 442.5 3194.5 448 V540"/>
<path class="t" stroke-width="2" d="M3297 447.5 H3203 Q3199 447.5 3199 451.5 V540"/>
<polyline class="t" stroke-width="3.6" points="3207,453.8 3279,527.6"/>
<polyline class="t" stroke-width="3" points="3266.8,470.9 3279,526.3"/>
<polyline class="t" stroke-width="3" points="3221.7,510.5 3277.8,528.8"/>
<circle cx="3284.5" cy="531.2" r="4.5" fill="#000"/>
<path class="t" stroke-width="3.6" d="M3053.2 540 V512 Q3053.2 505.8 3059.5 505.8 H3100 Q3106.3 505.8 3106.3 512 V540"/>
<path class="t" stroke-width="3.6" d="M3060.3 536 V515 Q3060.3 511.3 3064 511.3 H3094.5 Q3098.2 511.3 3098.2 515 V536 Z"/>
<polygon points="3070.5,540 3075,527 3079,523 3083,527 3087.5,540" fill="#000"/>
<path class="t" stroke-width="3.6" d="M3123.2 540 V528.5 Q3123.2 523 3128.7 523 H3174.5 Q3180 523 3180 528.5 V540"/>
<path class="t" stroke-width="3.6" d="M3129.5 523 V479 Q3129.5 469.3 3139 469.3 H3164.5 Q3174 469.3 3174 479 V523"/>
<path class="t" stroke-width="3.6" d="M3135.5 508 V483.5 Q3135.5 475.8 3143 475.8 H3160.5 Q3168 475.8 3168 483.5 V508 Q3168 515.8 3160.5 515.8 H3143 Q3135.5 515.8 3135.5 508 Z"/>
<path class="t" stroke-width="1.3" d="M1720.2 2350 L1697.8 2434.7 Q1720 2440 1743.1 2434.7 Z"/>
<path class="t" stroke-width="1.3" d="M1720.2 2358 L1702 2432 Q1720 2436 1739 2432 Z"/>
<polyline class="g" stroke-width="2" points="1720.2,2438.5 1720.2,2543"/>
<circle cx="1630.7" cy="2510.8" r="5.5" fill="none" stroke="#000" stroke-width="3"/>
<polyline class="t" stroke-width="3" points="1618,2510.8 1644,2510.8"/>
<polyline class="t" stroke-width="3" points="1630.7,2497 1630.7,2525"/>
<polyline class="t" stroke-width="3" points="1958.1,2392.5 1891.8,2392.5 1891.8,2572.7 1958.1,2572.7"/>
<polyline class="t" stroke-width="3" points="1958,2404 1904.8,2404 1904.8,2472 1958,2472"/>
<polygon class="t" stroke-width="3" points="1916.7,2416 1950,2416 1950,2462 1916.7,2462"/>
<polygon class="t" stroke-width="2.5" points="1921.7,2421 1945,2421 1945,2457 1921.7,2457"/>
<polygon points="1929,2439 1936,2432 1943,2439 1936,2446" fill="#000"/>
<circle cx="1955" cy="2428" r="3.5" fill="#000"/>
<circle cx="1955" cy="2450" r="3.5" fill="#000"/>
<polyline class="t" stroke-width="3" points="1958,2489 1904.8,2489 1904.8,2559 1958,2559"/>
<polygon class="t" stroke-width="3" points="1916.7,2501 1950,2501 1950,2549 1916.7,2549"/>
<polygon class="t" stroke-width="2.5" points="1921.7,2506 1945,2506 1945,2544 1921.7,2544"/>
<polygon points="1929,2525 1936,2518 1943,2525 1936,2532" fill="#000"/>
<circle cx="1955" cy="2514" r="3.5" fill="#000"/>
<circle cx="1955" cy="2536" r="3.5" fill="#000"/>
<path class="t" stroke-width="3.5" d="M1985.7 2361.7 H2036 Q2043 2361.7 2043 2369 V2457 Q2043 2464.3 2036 2464.3 H1985.7"/>
<rect x="1998.5" y="2377.5" width="34.5" height="71" rx="12" fill="none" stroke="#000" stroke-width="3.5"/>
<polygon points="1987,2399 1991,2395 1995,2399 1991,2403" fill="#000"/>
<polygon points="1987,2412 1991,2408 1995,2412 1991,2416" fill="#000"/>
<polygon points="1987,2425 1991,2421 1995,2425 1991,2429" fill="#000"/>
<polygon points="2002,2412 2009.5,2404.5 2017,2412 2009.5,2419.5" fill="#000"/>
<polygon class="t" stroke-width="2.2" points="1978.6,2515.5 1993.6,2515.5 1993.6,2602 1978.6,2602"/>
<path class="t" stroke-width="3.5" d="M1999.5 2537 H2038 Q2064.5 2538 2064.5 2559.5 Q2064.5 2581 2038 2582 H1999.5"/>
<path class="t" stroke-width="2.5" d="M2008 2541.5 H2037 Q2059 2543 2059 2559.5 Q2059 2576 2037 2577.5 H2008 Z"/>
<path class="t" stroke-width="3" d="M2013 2547 V2572"/>
<path class="t" stroke-width="3" d="M2024 2551 V2568 H2029 Q2037 2567 2037 2559.5 Q2037 2552 2029 2551 Z"/>
<polyline class="t" stroke-width="2.5" points="2008,2550 2013,2550"/>
<polyline class="t" stroke-width="2.5" points="2008,2569 2013,2569"/>
<path class="t" stroke-width="3.5" d="M1788 2618 V2578 Q1788 2552 1810 2552 Q1832.5 2552 1832.5 2578 V2618"/>
<path class="t" stroke-width="3" d="M1794.5 2580 Q1794.5 2559 1810 2559 Q1826 2559 1826 2580 Q1826 2597 1810 2597 Q1794.5 2597 1794.5 2580 Z"/>
<circle cx="1810" cy="2586" r="6.5" fill="none" stroke="#000" stroke-width="3"/>
<polyline class="w" stroke-width="6" points="1764.8,2596 1833.9,2621"/>
<polyline class="w" stroke-width="6" points="1764.8,2596 1759.5,2620"/>
<polygon class="t" stroke-width="2" points="1768.8,2627.9 1853.5,2627.9 1853.5,2637.8 1768.8,2637.8"/>
<polyline class="w" stroke-width="6" points="2017.2,2596 2112,2621"/>
<polyline class="w" stroke-width="6" points="2017.2,2596 2012,2620"/>
<polyline class="t" stroke-width="3.5" points="2266.5,2354.9 2411,2354.9"/>
<polyline class="g" stroke-width="2" points="2266.5,2358.1 2411,2358.1"/>
<polyline class="t" stroke-width="3.5" points="2266.5,2393.7 2411,2393.7"/>
<polyline class="g" stroke-width="2" points="2266.5,2396.9 2411,2396.9"/>
<polyline class="t" stroke-width="3.5" points="2266.5,2431.2 2411,2431.2"/>
<polyline class="g" stroke-width="2" points="2266.5,2434.4 2411,2434.4"/>
<polyline class="t" stroke-width="3.5" points="2266.5,2469.2 2411,2469.2"/>
<polyline class="g" stroke-width="2" points="2266.5,2472.4 2411,2472.4"/>
<polyline class="t" stroke-width="3.5" points="2659,2242.7 2806,2242.7"/>
<polyline class="g" stroke-width="2" points="2659,2245.9 2806,2245.9"/>
<polyline class="t" stroke-width="3.5" points="2659,2280.3 2806,2280.3"/>
<polyline class="g" stroke-width="2" points="2659,2283.5 2806,2283.5"/>
<polyline class="t" stroke-width="3.5" points="2659,2318.2 2806,2318.2"/>
<polyline class="g" stroke-width="2" points="2659,2321.4 2806,2321.4"/>
<polyline class="t" stroke-width="3.5" points="2659,2357 2806,2357"/>
<polyline class="g" stroke-width="2" points="2659,2360.2 2806,2360.2"/>
<polyline class="t" stroke-width="3.5" points="2659,2394.6 2806,2394.6"/>
<polyline class="g" stroke-width="2" points="2659,2397.8 2806,2397.8"/>
<polyline class="t" stroke-width="3.5" points="2659,2432.5 2806,2432.5"/>
<polyline class="g" stroke-width="2" points="2659,2435.7 2806,2435.7"/>
<polyline class="t" stroke-width="3.5" points="2659,2470.5 2806,2470.5"/>
<polyline class="g" stroke-width="2" points="2659,2473.7 2806,2473.7"/>
<polyline class="t" stroke-width="3.5" points="2659,2508 2806,2508"/>
<polyline class="g" stroke-width="2" points="2659,2511.2 2806,2511.2"/>
<polyline class="t" stroke-width="3.5" points="2453.6,2512 2453.6,2656"/>
<polyline class="g" stroke-width="2" points="2450.4,2512 2450.4,2656"/>
<polyline class="t" stroke-width="3.5" points="2491.2,2512 2491.2,2656"/>
<polyline class="g" stroke-width="2" points="2488,2512 2488,2656"/>
<polyline class="t" stroke-width="3.5" points="2530,2512 2530,2656"/>
<polyline class="g" stroke-width="2" points="2526.8,2512 2526.8,2656"/>
<polyline class="t" stroke-width="3.5" points="2567.5,2512 2567.5,2656"/>
<polyline class="g" stroke-width="2" points="2564.3,2512 2564.3,2656"/>
<polyline class="t" stroke-width="3.5" points="2605.5,2512 2605.5,2656"/>
<polyline class="g" stroke-width="2" points="2602.3,2512 2602.3,2656"/>
<polyline class="t" stroke-width="3.5" points="2643.4,2512 2643.4,2656"/>
<polyline class="g" stroke-width="2" points="2640.2,2512 2640.2,2656"/>
<polyline class="t" stroke-width="2.8" points="2363.9,2337.6 2363.9,2585.6 2733.6,2585.6 2733.6,2236"/>
<path class="t" stroke-width="3" d="M2733.6 2213 L2725.5 2235.5 H2741.5 Z" fill="#fff"/>
<path class="t" stroke-width="3" d="M2519.5 2575.5 V2593.5 L2537 2584.5 Z" fill="#fff"/>
<polyline class="t" stroke-width="4" points="2357.4,2337.6 2357.4,2404.5"/>
<polyline class="t" stroke-width="4" points="2370.4,2337.6 2370.4,2404.5"/>
<polyline class="t" stroke-width="2.5" points="2562.3,2501.5 2521.3,2667.6"/>
<polyline class="t" stroke-width="2.5" points="2567.5,2501.5 2526.5,2667.6"/>
<polyline class="g" stroke-width="2.5" points="2484,2241 2634,2241"/>
<polyline class="t" stroke-width="2.5" points="2809,2660 2809,2698"/>
<polyline class="g" stroke-width="2" points="2794.6,1412 2794.6,1440"/>
<line class="b" stroke-width="5" x1="1906" y1="819" x2="1906" y2="1374.5"/>
<line class="b" stroke-width="5.5" x1="1895" y1="830" x2="1917" y2="830"/>
<line class="b" stroke-width="5.5" x1="1895" y1="1363.4" x2="1917" y2="1363.4"/>
<line class="b" stroke-width="5" x1="1418.3" y1="1249.8" x2="3307" y2="1249.8"/>
<line class="b" stroke-width="5.5" x1="1430" y1="1238.8" x2="1430" y2="1260.8"/>
<line class="b" stroke-width="5.5" x1="2039.5" y1="1238.8" x2="2039.5" y2="1260.8"/>
<line class="b" stroke-width="5.5" x1="2058.3" y1="1238.8" x2="2058.3" y2="1260.8"/>
<line class="b" stroke-width="5.5" x1="2668.5" y1="1238.8" x2="2668.5" y2="1260.8"/>
<line class="b" stroke-width="5.5" x1="2688" y1="1238.8" x2="2688" y2="1260.8"/>
<line class="b" stroke-width="5.5" x1="3297.6" y1="1238.8" x2="3297.6" y2="1260.8"/>
<line class="b" stroke-width="5" x1="2634.4" y1="577.3" x2="2634.4" y2="1737.1"/>
<line class="b" stroke-width="5.5" x1="2623.4" y1="589.5" x2="2645.4" y2="589.5"/>
<line class="b" stroke-width="5.5" x1="2623.4" y1="1147" x2="2645.4" y2="1147"/>
<line class="b" stroke-width="5.5" x1="2623.4" y1="1174" x2="2645.4" y2="1174"/>
<line class="b" stroke-width="5.5" x1="2623.4" y1="1363.4" x2="2645.4" y2="1363.4"/>
<line class="b" stroke-width="5.5" x1="2623.4" y1="1408.5" x2="2645.4" y2="1408.5"/>
<line class="b" stroke-width="5.5" x1="2623.4" y1="1726.5" x2="2645.4" y2="1726.5"/>
<line class="b" stroke-width="5" x1="3128.5" y1="553" x2="3128.5" y2="1374"/>
<line class="b" stroke-width="5.5" x1="3117.5" y1="563.5" x2="3139.5" y2="563.5"/>
<line class="b" stroke-width="5.5" x1="3117.5" y1="812.5" x2="3139.5" y2="812.5"/>
<line class="b" stroke-width="5.5" x1="3117.5" y1="830.6" x2="3139.5" y2="830.6"/>
<line class="b" stroke-width="5.5" x1="3117.5" y1="1363.6" x2="3139.5" y2="1363.6"/>
<line class="b" stroke-width="5" x1="3032" y1="773.6" x2="3308" y2="773.6"/>
<line class="b" stroke-width="5.5" x1="3042" y1="762.6" x2="3042" y2="784.6"/>
<line class="b" stroke-width="5.5" x1="3297.5" y1="762.6" x2="3297.5" y2="784.6"/>
<line class="b" stroke-width="5" x1="2734.3" y1="497.6" x2="3307.5" y2="497.6"/>
<line class="b" stroke-width="5.5" x1="2744.6" y1="486.6" x2="2744.6" y2="508.6"/>
<line class="b" stroke-width="5.5" x1="3023.3" y1="486.6" x2="3023.3" y2="508.6"/>
<line class="b" stroke-width="5.5" x1="3042.6" y1="486.6" x2="3042.6" y2="508.6"/>
<line class="b" stroke-width="5.5" x1="3297.3" y1="486.6" x2="3297.3" y2="508.6"/>
<line class="b" stroke-width="5" x1="2987.3" y1="336.2" x2="2987.3" y2="745"/>
<line class="b" stroke-width="5.5" x1="2976.3" y1="347.3" x2="2998.3" y2="347.3"/>
<line class="b" stroke-width="5.5" x1="2976.3" y1="735.3" x2="2998.3" y2="735.3"/>
<line class="b" stroke-width="5" x1="3254.3" y1="336.2" x2="3254.3" y2="555"/>
<line class="b" stroke-width="5.5" x1="3243.3" y1="347.3" x2="3265.3" y2="347.3"/>
<line class="b" stroke-width="5.5" x1="3243.3" y1="545" x2="3265.3" y2="545"/>
<line class="b" stroke-width="5" x1="3330.3" y1="555.8" x2="3607" y2="555.8"/>
<line class="b" stroke-width="5.5" x1="3341.2" y1="544.8" x2="3341.2" y2="566.8"/>
<line class="b" stroke-width="5.5" x1="3595.3" y1="544.8" x2="3595.3" y2="566.8"/>
<line class="b" stroke-width="5" x1="3580" y1="387.3" x2="3580" y2="625"/>
<line class="b" stroke-width="5.5" x1="3569" y1="398.3" x2="3591" y2="398.3"/>
<line class="b" stroke-width="5.5" x1="3569" y1="616.5" x2="3591" y2="616.5"/>
<line class="b" stroke-width="5" x1="3395.6" y1="609.6" x2="3395.6" y2="783.5"/>
<line class="b" stroke-width="5.5" x1="3384.6" y1="619.7" x2="3406.6" y2="619.7"/>
<line class="b" stroke-width="5.5" x1="3384.6" y1="774" x2="3406.6" y2="774"/>
<line class="b" stroke-width="5" x1="3330.5" y1="729.5" x2="3638.8" y2="729.5"/>
<line class="b" stroke-width="5.5" x1="3341" y1="718.5" x2="3341" y2="740.5"/>
<line class="b" stroke-width="5.5" x1="3628" y1="718.5" x2="3628" y2="740.5"/>
<line class="b" stroke-width="5" x1="3331" y1="836.6" x2="3606" y2="836.6"/>
<line class="b" stroke-width="5.5" x1="3341" y1="825.6" x2="3341" y2="847.6"/>
<line class="b" stroke-width="5.5" x1="3595.5" y1="825.6" x2="3595.5" y2="847.6"/>
<line class="b" stroke-width="5" x1="3584" y1="768.2" x2="3584" y2="866.2"/>
<line class="b" stroke-width="5.5" x1="3573" y1="778.6" x2="3595" y2="778.6"/>
<line class="b" stroke-width="5.5" x1="3573" y1="855.7" x2="3595" y2="855.7"/>
<line class="b" stroke-width="5" x1="910.3" y1="1703" x2="2863.6" y2="1703"/>
<line class="b" stroke-width="5.5" x1="920.9" y1="1692" x2="920.9" y2="1714"/>
<line class="b" stroke-width="5.5" x1="1339.4" y1="1692" x2="1339.4" y2="1714"/>
<line class="b" stroke-width="5.5" x1="1383.5" y1="1692" x2="1383.5" y2="1714"/>
<line class="b" stroke-width="5.5" x1="2178.3" y1="1692" x2="2178.3" y2="1714"/>
<line class="b" stroke-width="5.5" x1="2223.5" y1="1692" x2="2223.5" y2="1714"/>
<line class="b" stroke-width="5.5" x1="2502" y1="1692" x2="2502" y2="1714"/>
<line class="b" stroke-width="5.5" x1="2547.6" y1="1692" x2="2547.6" y2="1714"/>
<line class="b" stroke-width="5.5" x1="2853.5" y1="1692" x2="2853.5" y2="1714"/>
<line class="b" stroke-width="5" x1="981.5" y1="1409.5" x2="981.5" y2="2054.5"/>
<line class="b" stroke-width="5.5" x1="970.5" y1="1420.5" x2="992.5" y2="1420.5"/>
<line class="b" stroke-width="5.5" x1="970.5" y1="2044.4" x2="992.5" y2="2044.4"/>
<line class="b" stroke-width="5" x1="1495.1" y1="1403.4" x2="1495.1" y2="2066.8"/>
<line class="b" stroke-width="5.5" x1="1484.1" y1="1414.4" x2="1506.1" y2="1414.4"/>
<line class="b" stroke-width="5.5" x1="1484.1" y1="2057.4" x2="1506.1" y2="2057.4"/>
<line class="b" stroke-width="5" x1="1495.1" y1="2079" x2="1495.1" y2="2632.8"/>
<line class="b" stroke-width="5.5" x1="1484.1" y1="2089.9" x2="1506.1" y2="2089.9"/>
<line class="b" stroke-width="5.5" x1="1484.1" y1="2622.2" x2="1506.1" y2="2622.2"/>
<line class="b" stroke-width="5" x1="2437.3" y1="1397.3" x2="2437.3" y2="2066.3"/>
<line class="b" stroke-width="5.5" x1="2426.3" y1="1408.3" x2="2448.3" y2="1408.3"/>
<line class="b" stroke-width="5.5" x1="2426.3" y1="2045.6" x2="2448.3" y2="2045.6"/>
<line class="b" stroke-width="5" x1="1030.7" y1="2221.1" x2="1586.5" y2="2221.1"/>
<line class="b" stroke-width="5" x1="1597.2" y1="2221.1" x2="2819" y2="2221.1"/>
<line class="b" stroke-width="5.5" x1="1042.5" y1="2210.1" x2="1042.5" y2="2232.1"/>
<line class="b" stroke-width="5.5" x1="1575.7" y1="2210.1" x2="1575.7" y2="2232.1"/>
<line class="b" stroke-width="5.5" x1="1607.8" y1="2210.1" x2="1607.8" y2="2232.1"/>
<line class="b" stroke-width="5.5" x1="1962.8" y1="2210.1" x2="1962.8" y2="2232.1"/>
<line class="b" stroke-width="5.5" x1="1981.7" y1="2210.1" x2="1981.7" y2="2232.1"/>
<line class="b" stroke-width="5.5" x1="2242.8" y1="2210.1" x2="2242.8" y2="2232.1"/>
<line class="b" stroke-width="5.5" x1="2261.7" y1="2210.1" x2="2261.7" y2="2232.1"/>
<line class="b" stroke-width="5.5" x1="2464" y1="2210.1" x2="2464" y2="2232.1"/>
<line class="b" stroke-width="5.5" x1="2482.5" y1="2210.1" x2="2482.5" y2="2232.1"/>
<line class="b" stroke-width="5.5" x1="2808.5" y1="2210.1" x2="2808.5" y2="2232.1"/>
<line class="b" stroke-width="5" x1="1597.2" y1="2457.3" x2="2254" y2="2457.3"/>
<line class="b" stroke-width="5.5" x1="1607" y1="2446.3" x2="1607" y2="2468.3"/>
<line class="b" stroke-width="5.5" x1="1962.8" y1="2446.3" x2="1962.8" y2="2468.3"/>
<line class="b" stroke-width="5.5" x1="1981.3" y1="2446.3" x2="1981.3" y2="2468.3"/>
<line class="b" stroke-width="5.5" x1="2242.8" y1="2446.3" x2="2242.8" y2="2468.3"/>
<line class="b" stroke-width="5" x1="1710.4" y1="2590.6" x2="1973.8" y2="2590.6"/>
<line class="b" stroke-width="5.5" x1="1721.8" y1="2579.6" x2="1721.8" y2="2601.6"/>
<line class="b" stroke-width="5.5" x1="1962.8" y1="2579.6" x2="1962.8" y2="2601.6"/>
<line class="b" stroke-width="5" x1="1984.9" y1="2590.6" x2="2254" y2="2590.6"/>
<line class="b" stroke-width="5.5" x1="1994.3" y1="2579.6" x2="1994.3" y2="2601.6"/>
<line class="b" stroke-width="5.5" x1="2242.8" y1="2579.6" x2="2242.8" y2="2601.6"/>
<line class="b" stroke-width="5" x1="1885.1" y1="2154.7" x2="1885.1" y2="2632"/>
<line class="b" stroke-width="5.5" x1="1874.1" y1="2164.5" x2="1896.1" y2="2164.5"/>
<line class="b" stroke-width="5.5" x1="1874.1" y1="2323.5" x2="1896.1" y2="2323.5"/>
<line class="b" stroke-width="5.5" x1="1874.1" y1="2343.2" x2="1896.1" y2="2343.2"/>
<line class="b" stroke-width="5.5" x1="1874.1" y1="2622" x2="1896.1" y2="2622"/>
<line class="b" stroke-width="5" x1="2175" y1="2154.7" x2="2175" y2="2334"/>
<line class="b" stroke-width="5.5" x1="2164" y1="2164.5" x2="2186" y2="2164.5"/>
<line class="b" stroke-width="5.5" x1="2164" y1="2323.5" x2="2186" y2="2323.5"/>
<line class="b" stroke-width="5" x1="2178.9" y1="2338.1" x2="2178.9" y2="2632"/>
<line class="b" stroke-width="5.5" x1="2167.9" y1="2349.9" x2="2189.9" y2="2349.9"/>
<line class="b" stroke-width="5.5" x1="2167.9" y1="2476.1" x2="2189.9" y2="2476.1"/>
<line class="b" stroke-width="5.5" x1="2167.9" y1="2495" x2="2189.9" y2="2495"/>
<line class="b" stroke-width="5.5" x1="2167.9" y1="2622" x2="2189.9" y2="2622"/>
<line class="b" stroke-width="5" x1="1646.5" y1="2332.1" x2="1646.5" y2="2557"/>
<line class="b" stroke-width="5.5" x1="1635.5" y1="2343.2" x2="1657.5" y2="2343.2"/>
<line class="b" stroke-width="5.5" x1="1635.5" y1="2547.1" x2="1657.5" y2="2547.1"/>
<line class="b" stroke-width="5" x1="2436.6" y1="2083.1" x2="2436.6" y2="2335.5"/>
<line class="b" stroke-width="5.5" x1="2425.6" y1="2094.2" x2="2447.6" y2="2094.2"/>
<line class="b" stroke-width="5.5" x1="2425.6" y1="2324.4" x2="2447.6" y2="2324.4"/>
<line class="b" stroke-width="5" x1="2610.6" y1="2078" x2="2610.6" y2="2316"/>
<line class="b" stroke-width="5.5" x1="2599.6" y1="2089.5" x2="2621.6" y2="2089.5"/>
<line class="b" stroke-width="5.5" x1="2599.6" y1="2304" x2="2621.6" y2="2304"/>
<line class="b" stroke-width="5" x1="2758.6" y1="2078" x2="2758.6" y2="2252.2"/>
<line class="b" stroke-width="5.5" x1="2747.6" y1="2089.5" x2="2769.6" y2="2089.5"/>
<line class="b" stroke-width="5.5" x1="2747.6" y1="2241.4" x2="2769.6" y2="2241.4"/>
<line class="b" stroke-width="5" x1="2200" y1="2457.4" x2="2254" y2="2457.4"/>
<text x="2314.2" y="893.2" font-size="28.1" fill="#000" font-weight="normal" textLength="45.8" lengthAdjust="spacingAndGlyphs" stroke="#000" stroke-width="1">SAM</text>
<text x="2804" y="526.4" font-size="26.9" fill="#000" font-weight="normal" textLength="130.7" lengthAdjust="spacingAndGlyphs" stroke="#000" stroke-width="1">CH. SERVICE</text>
<text x="3131.3" y="421" font-size="25.4" fill="#000" font-weight="normal" textLength="42.3" lengthAdjust="spacingAndGlyphs" stroke="#000" stroke-width="1">SDE</text>
<text x="1659.5" y="1138" font-size="27.1" fill="#000" font-weight="normal" textLength="83.5" lengthAdjust="spacingAndGlyphs" stroke="#000" stroke-width="1">SEJOUR</text>
<text x="2361.8" y="1276.6" font-size="25.3" fill="#000" font-weight="normal" textLength="49.3" lengthAdjust="spacingAndGlyphs" stroke="#000" stroke-width="1">HALL</text>
<text x="2895.7" y="1066.5" font-size="26.7" fill="#000" font-weight="normal" textLength="188" lengthAdjust="spacingAndGlyphs" stroke="#000" stroke-width="1">CUISINE AGENCEE</text>
<text x="2651" y="1582" font-size="26.9" fill="#000" font-weight="normal" textLength="87.7" lengthAdjust="spacingAndGlyphs" stroke="#000" stroke-width="1">PORCHE</text>
<text x="994.2" y="1603.8" font-size="26.3" fill="#000" font-weight="normal" textLength="228.8" lengthAdjust="spacingAndGlyphs" stroke="#000" stroke-width="1">TERRASSE COUVERTE</text>
<text x="1666.8" y="1577" font-size="26" fill="#000" font-weight="normal" textLength="70" lengthAdjust="spacingAndGlyphs" stroke="#000" stroke-width="1">SALON</text>
<text x="2337.2" y="1807.3" font-size="26.1" fill="#000" font-weight="normal" textLength="51.6" lengthAdjust="spacingAndGlyphs" stroke="#000" stroke-width="1">HALL</text>
<text x="1227.4" y="2503.2" font-size="26.6" fill="#000" font-weight="normal" textLength="118.6" lengthAdjust="spacingAndGlyphs" stroke="#000" stroke-width="1">CHAMBRE 4</text>
<text x="1684.7" y="2280.8" font-size="26.3" fill="#000" font-weight="normal" textLength="107.5" lengthAdjust="spacingAndGlyphs" stroke="#000" stroke-width="1">DRESSING</text>
<text x="2041.7" y="2293.5" font-size="26.4" fill="#000" font-weight="normal" textLength="107.5" lengthAdjust="spacingAndGlyphs" stroke="#000" stroke-width="1">DRESSING</text>
<text x="2079.9" y="2422.1" font-size="26" fill="#000" font-weight="normal" textLength="42.2" lengthAdjust="spacingAndGlyphs" stroke="#000" stroke-width="1">SDE</text>
<text x="1824.4" y="2520.2" font-size="26.3" fill="#000" font-weight="normal" textLength="42.8" lengthAdjust="spacingAndGlyphs" stroke="#000" stroke-width="1">SDB</text>
<text x="2617.2" y="2131.4" font-size="25.9" fill="#000" font-weight="normal" textLength="113.7" lengthAdjust="spacingAndGlyphs" stroke="#000" stroke-width="1">DEBARRAS</text>
<text x="2358.4" y="2167.2" font-size="26.4" fill="#000" font-weight="normal" textLength="51.9" lengthAdjust="spacingAndGlyphs" stroke="#000" stroke-width="1">HALL</text>
<text x="2864.7" y="494.1" font-size="27" fill="#0909dc" font-weight="normal" textLength="37.7" lengthAdjust="spacingAndGlyphs" stroke="#0909dc" stroke-width="0.9">220</text>
<text x="3151.3" y="494.1" font-size="27" fill="#0909dc" font-weight="normal" textLength="37.7" lengthAdjust="spacingAndGlyphs" stroke="#0909dc" stroke-width="0.9">200</text>
<text x="3448.9" y="552.9" font-size="26.7" fill="#0909dc" font-weight="normal" textLength="38.2" lengthAdjust="spacingAndGlyphs" stroke="#0909dc" stroke-width="0.9">200</text>
<text x="3465.7" y="726.1" font-size="25.6" fill="#0909dc" font-weight="normal" textLength="37.8" lengthAdjust="spacingAndGlyphs" stroke="#0909dc" stroke-width="0.9">225</text>
<text x="3450.6" y="833.1" font-size="25.7" fill="#0909dc" font-weight="normal" textLength="36.3" lengthAdjust="spacingAndGlyphs" stroke="#0909dc" stroke-width="0.9">200</text>
<text x="3151.9" y="769.9" font-size="26.8" fill="#0909dc" font-weight="normal" textLength="36.7" lengthAdjust="spacingAndGlyphs" stroke="#0909dc" stroke-width="0.9">200</text>
<text x="1715.9" y="1246.5" font-size="26.8" fill="#0909dc" font-weight="normal" textLength="38" lengthAdjust="spacingAndGlyphs" stroke="#0909dc" stroke-width="0.9">480</text>
<text x="2345.3" y="1247.5" font-size="26.3" fill="#0909dc" font-weight="normal" textLength="36.8" lengthAdjust="spacingAndGlyphs" stroke="#0909dc" stroke-width="0.9">480</text>
<text x="2973.5" y="1247.7" font-size="27.4" fill="#0909dc" font-weight="normal" textLength="37.9" lengthAdjust="spacingAndGlyphs" stroke="#0909dc" stroke-width="0.9">480</text>
<text x="1112.4" y="1700.3" font-size="27.3" fill="#0909dc" font-weight="normal" textLength="37.4" lengthAdjust="spacingAndGlyphs" stroke="#0909dc" stroke-width="0.9">330</text>
<text x="1350.4" y="1700.3" font-size="27.3" fill="#0909dc" font-weight="normal" textLength="23.9" lengthAdjust="spacingAndGlyphs" stroke="#0909dc" stroke-width="0.9">35</text>
<text x="1762.2" y="1700.5" font-size="27.5" fill="#0909dc" font-weight="normal" textLength="38.6" lengthAdjust="spacingAndGlyphs" stroke="#0909dc" stroke-width="0.9">625</text>
<text x="2188.9" y="1700.5" font-size="27.5" fill="#0909dc" font-weight="normal" textLength="24.5" lengthAdjust="spacingAndGlyphs" stroke="#0909dc" stroke-width="0.9">35</text>
<text x="2344.5" y="1700.5" font-size="27.5" fill="#0909dc" font-weight="normal" textLength="38.1" lengthAdjust="spacingAndGlyphs" stroke="#0909dc" stroke-width="0.9">220</text>
<text x="2512.6" y="1700.8" font-size="27.3" fill="#0909dc" font-weight="normal" textLength="25.2" lengthAdjust="spacingAndGlyphs" stroke="#0909dc" stroke-width="0.9">35</text>
<text x="2681.1" y="1700.8" font-size="27.3" fill="#0909dc" font-weight="normal" textLength="37.3" lengthAdjust="spacingAndGlyphs" stroke="#0909dc" stroke-width="0.9">240</text>
<text x="1289.7" y="2218.5" font-size="27.5" fill="#0909dc" font-weight="normal" textLength="38.3" lengthAdjust="spacingAndGlyphs" stroke="#0909dc" stroke-width="0.9">420</text>
<text x="1767.4" y="2218.1" font-size="27.3" fill="#0909dc" font-weight="normal" textLength="36.5" lengthAdjust="spacingAndGlyphs" stroke="#0909dc" stroke-width="0.9">280</text>
<text x="2094.7" y="2218.1" font-size="27.3" fill="#0909dc" font-weight="normal" textLength="36.6" lengthAdjust="spacingAndGlyphs" stroke="#0909dc" stroke-width="0.9">205</text>
<text x="2345.5" y="2219.1" font-size="26.8" fill="#0909dc" font-weight="normal" textLength="36.1" lengthAdjust="spacingAndGlyphs" stroke="#0909dc" stroke-width="0.9">160</text>
<text x="2626.3" y="2219.1" font-size="26.8" fill="#0909dc" font-weight="normal" textLength="38.7" lengthAdjust="spacingAndGlyphs" stroke="#0909dc" stroke-width="0.9">255</text>
<text x="1767.4" y="2454.7" font-size="27.1" fill="#0909dc" font-weight="normal" textLength="36.5" lengthAdjust="spacingAndGlyphs" stroke="#0909dc" stroke-width="0.9">280</text>
<text x="2094.7" y="2454.7" font-size="27.1" fill="#0909dc" font-weight="normal" textLength="36.6" lengthAdjust="spacingAndGlyphs" stroke="#0909dc" stroke-width="0.9">205</text>
<text x="1822.8" y="2588.2" font-size="26.7" fill="#0909dc" font-weight="normal" textLength="37.1" lengthAdjust="spacingAndGlyphs" stroke="#0909dc" stroke-width="0.9">190</text>
<text x="2098.8" y="2588.2" font-size="26.7" fill="#0909dc" font-weight="normal" textLength="37.2" lengthAdjust="spacingAndGlyphs" stroke="#0909dc" stroke-width="0.9">195</text>
<text transform="translate(2631.5 888) rotate(-90)" font-size="27.7" fill="#0909dc" stroke="#0909dc" stroke-width="0.9" textLength="37.9" lengthAdjust="spacingAndGlyphs">440</text>
<text transform="translate(2984 560.4) rotate(-90)" font-size="29.1" fill="#0909dc" stroke="#0909dc" stroke-width="0.9" textLength="37.9" lengthAdjust="spacingAndGlyphs">305</text>
<text transform="translate(3251 466) rotate(-90)" font-size="28.2" fill="#0909dc" stroke="#0909dc" stroke-width="0.9" textLength="38.9" lengthAdjust="spacingAndGlyphs">155</text>
<text transform="translate(3125.5 706.6) rotate(-90)" font-size="28" fill="#0909dc" stroke="#0909dc" stroke-width="0.9" textLength="38" lengthAdjust="spacingAndGlyphs">195</text>
<text transform="translate(3576.5 526.2) rotate(-90)" font-size="27.8" fill="#0909dc" stroke="#0909dc" stroke-width="0.9" textLength="37.4" lengthAdjust="spacingAndGlyphs">170</text>
<text transform="translate(3392.4 717.2) rotate(-90)" font-size="27" fill="#0909dc" stroke="#0909dc" stroke-width="0.9" textLength="38.3" lengthAdjust="spacingAndGlyphs">120</text>
<text transform="translate(3580 829) rotate(-90)" font-size="26.8" fill="#0909dc" stroke="#0909dc" stroke-width="0.9" textLength="24.7" lengthAdjust="spacingAndGlyphs">60</text>
<text transform="translate(1902.5 1116) rotate(-90)" font-size="27.8" fill="#0909dc" stroke="#0909dc" stroke-width="0.9" textLength="38.4" lengthAdjust="spacingAndGlyphs">420</text>
<text transform="translate(3132.5 1078.9) rotate(90)" font-size="28.2" fill="#0909dc" stroke="#0909dc" stroke-width="0.9" textLength="37" lengthAdjust="spacingAndGlyphs">420</text>
<text transform="translate(2630.8 1287.3) rotate(-90)" font-size="28.2" fill="#0909dc" stroke="#0909dc" stroke-width="0.9" textLength="36.3" lengthAdjust="spacingAndGlyphs">150</text>
<text transform="translate(2631.3 1585.3) rotate(-90)" font-size="28" fill="#0909dc" stroke="#0909dc" stroke-width="0.9" textLength="38.1" lengthAdjust="spacingAndGlyphs">250</text>
<text transform="translate(2434.3 1744.4) rotate(-90)" font-size="28.4" fill="#0909dc" stroke="#0909dc" stroke-width="0.9" textLength="37.5" lengthAdjust="spacingAndGlyphs">500</text>
<text transform="translate(977.6 1751.1) rotate(-90)" font-size="30.2" fill="#0909dc" stroke="#0909dc" stroke-width="0.9" textLength="37.9" lengthAdjust="spacingAndGlyphs">490</text>
<text transform="translate(1491.4 1754.8) rotate(-90)" font-size="29.2" fill="#0909dc" stroke="#0909dc" stroke-width="0.9" textLength="37.5" lengthAdjust="spacingAndGlyphs">505</text>
<text transform="translate(1491.4 2375.1) rotate(-90)" font-size="29.2" fill="#0909dc" stroke="#0909dc" stroke-width="0.9" textLength="38.3" lengthAdjust="spacingAndGlyphs">420</text>
<text transform="translate(1881.8 2264.3) rotate(-90)" font-size="28.8" fill="#0909dc" stroke="#0909dc" stroke-width="0.9" textLength="37.2" lengthAdjust="spacingAndGlyphs">125</text>
<text transform="translate(2172.3 2264.3) rotate(-90)" font-size="28.5" fill="#0909dc" stroke="#0909dc" stroke-width="0.9" textLength="37.2" lengthAdjust="spacingAndGlyphs">125</text>
<text transform="translate(1643.6 2463.5) rotate(-90)" font-size="28.2" fill="#0909dc" stroke="#0909dc" stroke-width="0.9" textLength="37.1" lengthAdjust="spacingAndGlyphs">160</text>
<text transform="translate(1881.8 2501.5) rotate(-90)" font-size="28.8" fill="#0909dc" stroke="#0909dc" stroke-width="0.9" textLength="36.5" lengthAdjust="spacingAndGlyphs">220</text>
<text transform="translate(2175.6 2431.9) rotate(-90)" font-size="27.7" fill="#0909dc" stroke="#0909dc" stroke-width="0.9" textLength="37.1" lengthAdjust="spacingAndGlyphs">100</text>
<text transform="translate(2175.6 2578.6) rotate(-90)" font-size="27.7" fill="#0909dc" stroke="#0909dc" stroke-width="0.9" textLength="37" lengthAdjust="spacingAndGlyphs">100</text>
<text transform="translate(2440 2191.8) rotate(90)" font-size="26.8" fill="#0909dc" stroke="#0909dc" stroke-width="0.9" textLength="37.5" lengthAdjust="spacingAndGlyphs">180</text>
<text transform="translate(2607.6 2216) rotate(-90)" font-size="27.4" fill="#0909dc" stroke="#0909dc" stroke-width="0.9" textLength="37.5" lengthAdjust="spacingAndGlyphs">170</text>
<text transform="translate(2755.2 2183.5) rotate(-90)" font-size="28.7" fill="#0909dc" stroke="#0909dc" stroke-width="0.9" textLength="36.1" lengthAdjust="spacingAndGlyphs">120</text>
</svg>
</body></html>
